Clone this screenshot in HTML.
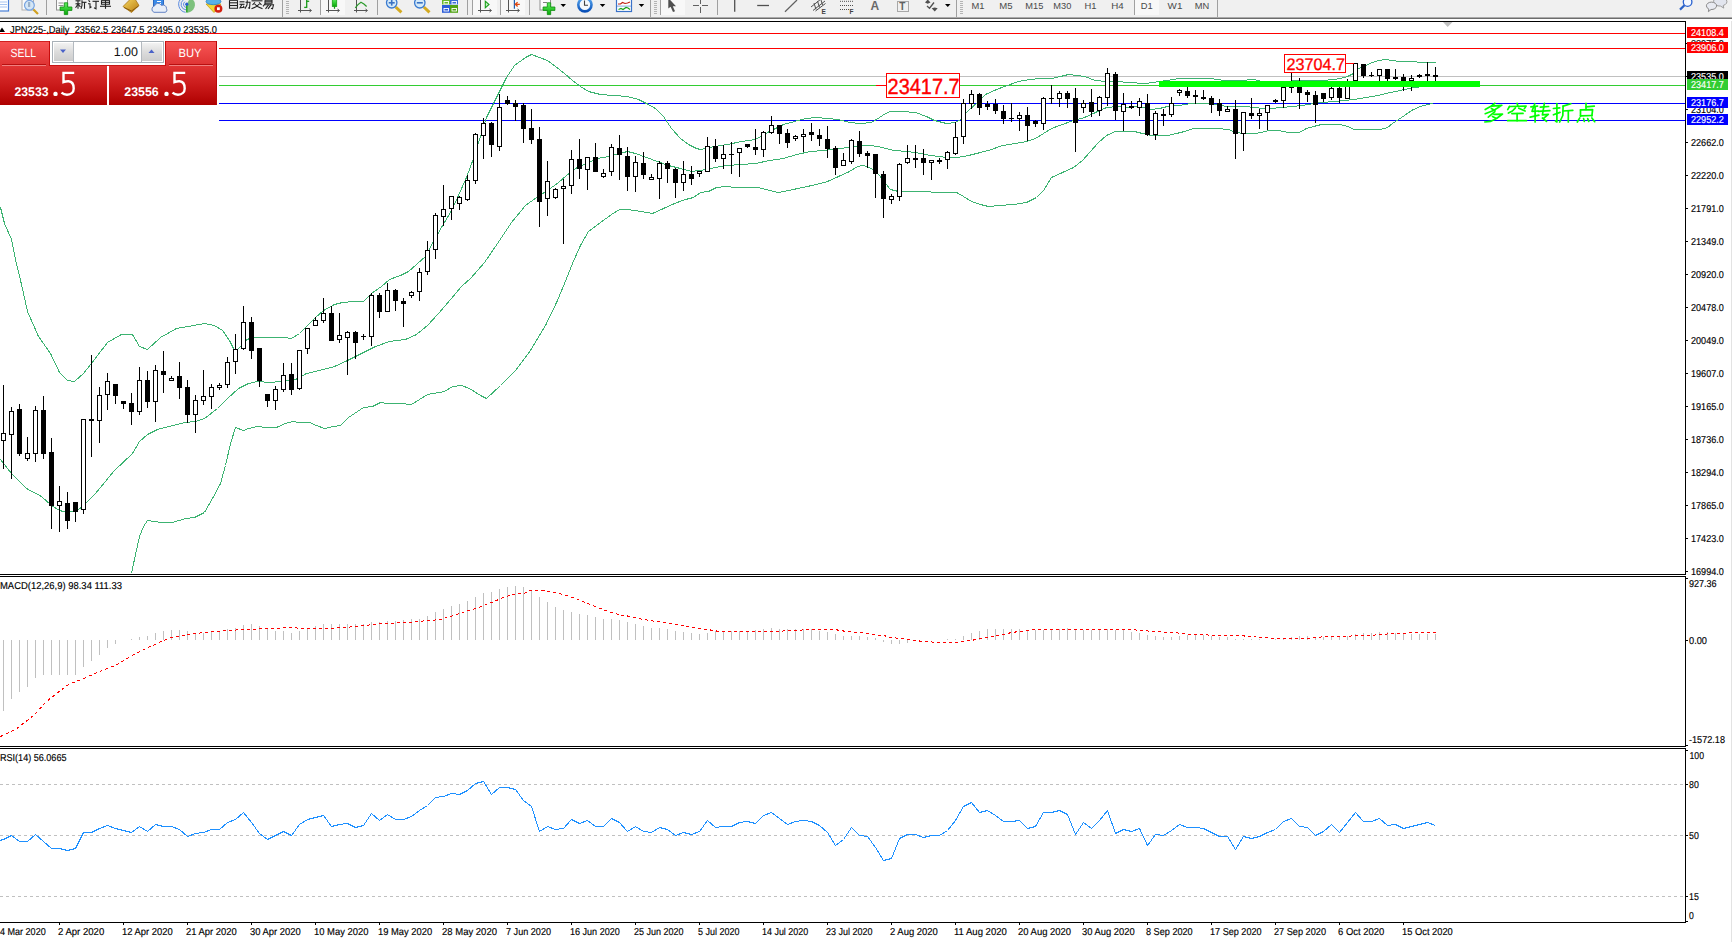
<!DOCTYPE html>
<html><head><meta charset="utf-8"><title>JPN225 Daily</title>
<style>
html,body{margin:0;padding:0;background:#fff;overflow:hidden}
body{width:1732px;height:942px;font-family:"Liberation Sans",sans-serif}
svg{display:block}
text{font-family:"Liberation Sans",sans-serif}
</style></head><body>
<svg width="1732" height="942" viewBox="0 0 1732 942">
<defs>
<linearGradient id="gbtn" x1="0" y1="0" x2="0" y2="1"><stop offset="0" stop-color="#f85656"/><stop offset="1" stop-color="#de3232"/></linearGradient>
<linearGradient id="gpan" x1="0" y1="0" x2="0" y2="1"><stop offset="0" stop-color="#e23636"/><stop offset="0.55" stop-color="#c81818"/><stop offset="1" stop-color="#ae0000"/></linearGradient>
<linearGradient id="gsp" x1="0" y1="0" x2="0" y2="1"><stop offset="0" stop-color="#f2f2f2"/><stop offset="0.5" stop-color="#dcdcdc"/><stop offset="1" stop-color="#cdcdcd"/></linearGradient>
<linearGradient id="ggold" x1="0" y1="0" x2="1" y2="1"><stop offset="0" stop-color="#f6d860"/><stop offset="1" stop-color="#b87a10"/></linearGradient>
<linearGradient id="gblue" x1="0" y1="0" x2="0" y2="1"><stop offset="0" stop-color="#58a8f0"/><stop offset="1" stop-color="#0a50b8"/></linearGradient>
<linearGradient id="ggreen" x1="0" y1="0" x2="0" y2="1"><stop offset="0" stop-color="#60f060"/><stop offset="1" stop-color="#08a808"/></linearGradient>
</defs>
<rect width="1732" height="942" fill="#fff"/>

<g shape-rendering="crispEdges">
<rect x="219" y="76" width="1467" height="1" fill="#c0c0c0"/>
<rect x="0" y="33" width="1686" height="1" fill="#ff0000"/>
<rect x="219" y="48" width="1467" height="1" fill="#ff0000"/>
<rect x="219" y="85" width="657" height="1" fill="#32cd32"/>
<rect x="960" y="85" width="726" height="1" fill="#32cd32"/>
<rect x="219" y="103" width="1467" height="1" fill="#0000ff"/>
<rect x="219" y="120" width="1467" height="1" fill="#0000ff"/>
</g><g shape-rendering="crispEdges" stroke-linejoin="round">
<polyline points="0.5,207.5 4.5,223.5 11.5,239.5 15.5,259.5 21.5,284.5 27.5,311.5 38.5,336.5 50.5,353.5 59.5,372.5 67.5,380.5 74.5,381.5 83.5,373.5 94.5,359.5 107.5,342.5 121.5,334.5 132.5,334.5 139.5,346.5 147.5,349.5 160.5,337.5 176.5,328.5 193.5,325.5 204.5,323.5 214.5,325.5 222.5,330.5 229.5,340.5 233.5,348.5 236.5,350.5 240.5,346.5 245.5,340.5 251.5,337.5 267.5,337.5 284.5,337.5 291.5,338.5 299.5,333.5 306.5,326.5 314.5,318.5 323.5,310.5 334.5,304.5 342.5,302.5 353.5,301.5 363.5,301.5 371.5,293.5 381.5,286.5 389.5,279.5 400.5,275.5 408.5,271.5 416.5,264.5 425.5,256.5 433.5,241.5 441.5,227.5 450.5,212.5 458.5,195.5 466.5,177.5 473.5,158.5 478.5,142.5 486.5,117.5 497.5,95.5 506.5,77.5 514.5,65.5 525.5,57.5 531.5,54.5 539.5,57.5 547.5,60.5 555.5,66.5 564.5,73.5 572.5,80.5 580.5,86.5 588.5,91.5 600.5,94.5 613.5,95.5 627.5,96.5 638.5,99.5 646.5,103.5 655.5,108.5 663.5,116.5 671.5,128.5 680.5,138.5 688.5,144.5 696.5,148.5 700.5,149.5 714.5,146.5 727.5,144.5 741.5,141.5 755.5,139.5 769.5,131.5 783.5,124.5 794.5,121.5 805.5,118.5 816.5,117.5 827.5,118.5 838.5,119.5 849.5,122.5 860.5,123.5 871.5,122.5 879.5,117.5 885.5,113.5 890.5,111.5 901.5,111.5 915.5,112.5 926.5,116.5 934.5,120.5 938.5,121.5 946.5,123.5 955.5,122.5 960.5,119.5 968.5,110.5 977.5,102.5 985.5,94.5 996.5,89.5 1007.5,85.5 1018.5,81.5 1029.5,79.5 1040.5,78.5 1051.5,78.5 1060.5,76.5 1068.5,74.5 1076.5,75.5 1084.5,76.5 1095.5,80.5 1106.5,81.5 1117.5,81.5 1128.5,82.5 1145.5,83.5 1159.5,81.5 1167.5,80.5 1178.5,78.5 1210.5,78.5 1224.5,80.5 1240.5,80.5 1254.5,79.5 1261.5,81.5 1323.5,80.5 1333.5,79.5 1340.5,78.5 1347.5,76.5 1353.5,73.5 1358.5,68.5 1365.5,65.5 1372.5,62.5 1378.5,60.5 1385.5,59.5 1392.5,60.5 1399.5,61.5 1406.5,61.5 1413.5,61.5 1420.5,62.5 1435.5,62.5" fill="none" stroke="#3cb371" stroke-width="1" />
<polyline points="0.5,459.5 11.5,473.5 26.5,488.5 41.5,496.5 51.5,505.5 59.5,510.5 67.5,512.5 77.5,510.5 85.5,503.5 94.5,494.5 100.5,487.5 113.5,471.5 132.5,453.5 139.5,441.5 147.5,434.5 157.5,429.5 172.5,425.5 185.5,422.5 195.5,421.5 204.5,418.5 217.5,408.5 227.5,398.5 238.5,388.5 248.5,383.5 257.5,381.5 270.5,382.5 280.5,381.5 295.5,379.5 306.5,373.5 323.5,369.5 334.5,366.5 347.5,360.5 361.5,353.5 375.5,346.5 389.5,341.5 405.5,339.5 416.5,334.5 427.5,325.5 438.5,313.5 450.5,299.5 461.5,286.5 470.5,278.5 484.5,262.5 497.5,243.5 511.5,222.5 525.5,205.5 536.5,197.5 547.5,190.5 558.5,182.5 566.5,175.5 575.5,168.5 586.5,163.5 597.5,158.5 608.5,156.5 619.5,153.5 627.5,151.5 635.5,153.5 646.5,157.5 657.5,161.5 668.5,165.5 680.5,168.5 691.5,171.5 699.5,170.5 707.5,169.5 714.5,167.5 727.5,165.5 741.5,164.5 755.5,163.5 769.5,160.5 783.5,158.5 796.5,154.5 810.5,151.5 824.5,150.5 838.5,148.5 849.5,147.5 860.5,145.5 871.5,145.5 882.5,147.5 893.5,150.5 907.5,151.5 921.5,153.5 930.5,155.5 938.5,156.5 946.5,157.5 957.5,157.5 968.5,155.5 980.5,152.5 991.5,149.5 1002.5,145.5 1015.5,143.5 1026.5,141.5 1035.5,138.5 1043.5,133.5 1051.5,128.5 1062.5,124.5 1073.5,120.5 1084.5,117.5 1095.5,112.5 1106.5,107.5 1117.5,106.5 1128.5,107.5 1140.5,106.5 1150.5,109.5 1159.5,108.5 1167.5,106.5 1178.5,105.5 1191.5,103.5 1202.5,103.5 1210.5,103.5 1219.5,105.5 1228.5,106.5 1236.5,106.5 1245.5,106.5 1254.5,107.5 1262.5,108.5 1271.5,108.5 1281.5,107.5 1292.5,106.5 1302.5,105.5 1313.5,103.5 1323.5,102.5 1333.5,101.5 1344.5,100.5 1354.5,99.5 1366.5,97.5 1378.5,95.5 1389.5,92.5 1396.5,91.5 1403.5,89.5 1410.5,88.5 1413.5,87.5 1435.5,85.5" fill="none" stroke="#3cb371" stroke-width="1" />
<polyline points="131.5,573.5 135.5,554.5 139.5,536.5 143.5,526.5 147.5,520.5 153.5,521.5 161.5,522.5 172.5,522.5 185.5,518.5 194.5,517.5 204.5,512.5 212.5,498.5 220.5,483.5 225.5,465.5 230.5,443.5 235.5,427.5 243.5,430.5 248.5,428.5 257.5,426.5 265.5,427.5 276.5,427.5 285.5,423.5 292.5,421.5 299.5,422.5 309.5,422.5 316.5,425.5 324.5,428.5 333.5,426.5 340.5,425.5 348.5,417.5 357.5,411.5 363.5,407.5 372.5,406.5 380.5,402.5 386.5,403.5 400.5,403.5 411.5,404.5 419.5,399.5 427.5,394.5 444.5,391.5 452.5,386.5 461.5,385.5 469.5,388.5 480.5,395.5 486.5,398.5 500.5,385.5 515.5,370.5 530.5,350.5 545.5,325.5 557.5,300.5 564.5,283.5 572.5,263.5 580.5,245.5 588.5,231.5 600.5,222.5 611.5,214.5 619.5,209.5 627.5,209.5 641.5,211.5 652.5,213.5 663.5,208.5 674.5,203.5 685.5,199.5 693.5,197.5 700.5,192.5 708.5,191.5 716.5,187.5 725.5,186.5 736.5,187.5 758.5,187.5 769.5,190.5 778.5,192.5 788.5,190.5 802.5,187.5 816.5,184.5 827.5,181.5 838.5,176.5 849.5,171.5 857.5,166.5 863.5,165.5 871.5,168.5 879.5,175.5 885.5,183.5 890.5,189.5 898.5,191.5 910.5,191.5 921.5,191.5 940.5,192.5 956.5,192.5 963.5,196.5 971.5,201.5 980.5,204.5 988.5,206.5 999.5,205.5 1013.5,204.5 1026.5,202.5 1036.5,197.5 1043.5,190.5 1051.5,177.5 1062.5,172.5 1073.5,167.5 1082.5,160.5 1090.5,151.5 1098.5,142.5 1106.5,135.5 1115.5,131.5 1134.5,131.5 1142.5,133.5 1151.5,135.5 1159.5,135.5 1167.5,135.5 1176.5,133.5 1184.5,131.5 1193.5,128.5 1202.5,128.5 1216.5,128.5 1228.5,129.5 1235.5,132.5 1243.5,133.5 1254.5,133.5 1261.5,132.5 1268.5,130.5 1278.5,130.5 1288.5,132.5 1299.5,132.5 1306.5,128.5 1313.5,126.5 1321.5,124.5 1340.5,124.5 1347.5,126.5 1354.5,129.5 1366.5,129.5 1380.5,129.5 1387.5,127.5 1392.5,123.5 1398.5,119.5 1404.5,115.5 1411.5,110.5 1420.5,106.5 1427.5,104.5 1433.5,103.5" fill="none" stroke="#3cb371" stroke-width="1" />
</g><g shape-rendering="crispEdges">
<rect x="3" y="385" width="1" height="84" fill="#000"/>
<rect x="1" y="433" width="5" height="8" fill="#000"/>
<rect x="2" y="434" width="3" height="6" fill="#fff"/>
<rect x="11" y="407" width="1" height="72" fill="#000"/>
<rect x="9" y="411" width="5" height="24" fill="#000"/>
<rect x="10" y="412" width="3" height="22" fill="#fff"/>
<rect x="19" y="404" width="1" height="52" fill="#000"/>
<rect x="17" y="409" width="5" height="45" fill="#000"/>
<rect x="27" y="437" width="1" height="24" fill="#000"/>
<rect x="25" y="453" width="5" height="6" fill="#000"/>
<rect x="26" y="454" width="3" height="4" fill="#fff"/>
<rect x="35" y="406" width="1" height="56" fill="#000"/>
<rect x="33" y="410" width="5" height="44" fill="#000"/>
<rect x="34" y="411" width="3" height="42" fill="#fff"/>
<rect x="43" y="396" width="1" height="63" fill="#000"/>
<rect x="41" y="410" width="5" height="44" fill="#000"/>
<rect x="51" y="438" width="1" height="91" fill="#000"/>
<rect x="49" y="452" width="5" height="54" fill="#000"/>
<rect x="59" y="486" width="1" height="46" fill="#000"/>
<rect x="57" y="501" width="5" height="5" fill="#000"/>
<rect x="58" y="502" width="3" height="3" fill="#fff"/>
<rect x="67" y="492" width="1" height="37" fill="#000"/>
<rect x="65" y="503" width="5" height="18" fill="#000"/>
<rect x="75" y="502" width="1" height="20" fill="#000"/>
<rect x="73" y="502" width="5" height="10" fill="#000"/>
<rect x="83" y="419" width="1" height="95" fill="#000"/>
<rect x="81" y="419" width="5" height="91" fill="#000"/>
<rect x="82" y="420" width="3" height="89" fill="#fff"/>
<rect x="91" y="355" width="1" height="102" fill="#000"/>
<rect x="89" y="419" width="5" height="2" fill="#000"/>
<rect x="99" y="387" width="1" height="56" fill="#000"/>
<rect x="97" y="395" width="5" height="26" fill="#000"/>
<rect x="98" y="396" width="3" height="24" fill="#fff"/>
<rect x="107" y="373" width="1" height="37" fill="#000"/>
<rect x="105" y="381" width="5" height="14" fill="#000"/>
<rect x="106" y="382" width="3" height="12" fill="#fff"/>
<rect x="115" y="384" width="1" height="20" fill="#000"/>
<rect x="113" y="384" width="5" height="12" fill="#000"/>
<rect x="123" y="401" width="1" height="8" fill="#000"/>
<rect x="121" y="401" width="5" height="3" fill="#000"/>
<rect x="131" y="393" width="1" height="32" fill="#000"/>
<rect x="129" y="403" width="5" height="9" fill="#000"/>
<rect x="139" y="367" width="1" height="48" fill="#000"/>
<rect x="137" y="380" width="5" height="32" fill="#000"/>
<rect x="138" y="381" width="3" height="30" fill="#fff"/>
<rect x="147" y="371" width="1" height="37" fill="#000"/>
<rect x="145" y="380" width="5" height="22" fill="#000"/>
<rect x="155" y="365" width="1" height="57" fill="#000"/>
<rect x="153" y="370" width="5" height="32" fill="#000"/>
<rect x="154" y="371" width="3" height="30" fill="#fff"/>
<rect x="163" y="351" width="1" height="42" fill="#000"/>
<rect x="161" y="371" width="5" height="4" fill="#000"/>
<rect x="171" y="376" width="1" height="5" fill="#000"/>
<rect x="169" y="378" width="5" height="3" fill="#000"/>
<rect x="170" y="379" width="3" height="1" fill="#fff"/>
<rect x="179" y="362" width="1" height="37" fill="#000"/>
<rect x="177" y="376" width="5" height="12" fill="#000"/>
<rect x="187" y="380" width="1" height="43" fill="#000"/>
<rect x="185" y="387" width="5" height="28" fill="#000"/>
<rect x="195" y="395" width="1" height="38" fill="#000"/>
<rect x="193" y="400" width="5" height="15" fill="#000"/>
<rect x="194" y="401" width="3" height="13" fill="#fff"/>
<rect x="203" y="370" width="1" height="35" fill="#000"/>
<rect x="201" y="396" width="5" height="5" fill="#000"/>
<rect x="202" y="397" width="3" height="3" fill="#fff"/>
<rect x="211" y="384" width="1" height="25" fill="#000"/>
<rect x="209" y="387" width="5" height="10" fill="#000"/>
<rect x="210" y="388" width="3" height="8" fill="#fff"/>
<rect x="219" y="383" width="1" height="7" fill="#000"/>
<rect x="217" y="385" width="5" height="3" fill="#000"/>
<rect x="218" y="386" width="3" height="1" fill="#fff"/>
<rect x="227" y="357" width="1" height="31" fill="#000"/>
<rect x="225" y="362" width="5" height="23" fill="#000"/>
<rect x="226" y="363" width="3" height="21" fill="#fff"/>
<rect x="235" y="334" width="1" height="40" fill="#000"/>
<rect x="233" y="349" width="5" height="13" fill="#000"/>
<rect x="234" y="350" width="3" height="11" fill="#fff"/>
<rect x="243" y="306" width="1" height="44" fill="#000"/>
<rect x="241" y="322" width="5" height="27" fill="#000"/>
<rect x="242" y="323" width="3" height="25" fill="#fff"/>
<rect x="251" y="317" width="1" height="42" fill="#000"/>
<rect x="249" y="322" width="5" height="29" fill="#000"/>
<rect x="259" y="348" width="1" height="39" fill="#000"/>
<rect x="257" y="348" width="5" height="33" fill="#000"/>
<rect x="267" y="394" width="1" height="13" fill="#000"/>
<rect x="265" y="394" width="5" height="7" fill="#000"/>
<rect x="275" y="386" width="1" height="24" fill="#000"/>
<rect x="273" y="389" width="5" height="12" fill="#000"/>
<rect x="274" y="390" width="3" height="10" fill="#fff"/>
<rect x="283" y="363" width="1" height="29" fill="#000"/>
<rect x="281" y="375" width="5" height="15" fill="#000"/>
<rect x="282" y="376" width="3" height="13" fill="#fff"/>
<rect x="291" y="363" width="1" height="32" fill="#000"/>
<rect x="289" y="374" width="5" height="16" fill="#000"/>
<rect x="299" y="350" width="1" height="40" fill="#000"/>
<rect x="297" y="350" width="5" height="39" fill="#000"/>
<rect x="298" y="351" width="3" height="37" fill="#fff"/>
<rect x="307" y="328" width="1" height="26" fill="#000"/>
<rect x="305" y="328" width="5" height="21" fill="#000"/>
<rect x="306" y="329" width="3" height="19" fill="#fff"/>
<rect x="315" y="317" width="1" height="9" fill="#000"/>
<rect x="313" y="320" width="5" height="6" fill="#000"/>
<rect x="314" y="321" width="3" height="4" fill="#fff"/>
<rect x="323" y="298" width="1" height="25" fill="#000"/>
<rect x="321" y="313" width="5" height="8" fill="#000"/>
<rect x="322" y="314" width="3" height="6" fill="#fff"/>
<rect x="331" y="306" width="1" height="35" fill="#000"/>
<rect x="329" y="313" width="5" height="28" fill="#000"/>
<rect x="339" y="313" width="1" height="30" fill="#000"/>
<rect x="337" y="335" width="5" height="5" fill="#000"/>
<rect x="338" y="336" width="3" height="3" fill="#fff"/>
<rect x="347" y="331" width="1" height="44" fill="#000"/>
<rect x="345" y="332" width="5" height="6" fill="#000"/>
<rect x="346" y="333" width="3" height="4" fill="#fff"/>
<rect x="355" y="331" width="1" height="28" fill="#000"/>
<rect x="353" y="332" width="5" height="11" fill="#000"/>
<rect x="363" y="334" width="1" height="6" fill="#000"/>
<rect x="361" y="336" width="5" height="1" fill="#000"/>
<rect x="371" y="293" width="1" height="53" fill="#000"/>
<rect x="369" y="295" width="5" height="42" fill="#000"/>
<rect x="370" y="296" width="3" height="40" fill="#fff"/>
<rect x="379" y="293" width="1" height="25" fill="#000"/>
<rect x="377" y="295" width="5" height="17" fill="#000"/>
<rect x="387" y="283" width="1" height="29" fill="#000"/>
<rect x="385" y="290" width="5" height="22" fill="#000"/>
<rect x="386" y="291" width="3" height="20" fill="#fff"/>
<rect x="395" y="289" width="1" height="22" fill="#000"/>
<rect x="393" y="290" width="5" height="11" fill="#000"/>
<rect x="403" y="298" width="1" height="29" fill="#000"/>
<rect x="401" y="301" width="5" height="3" fill="#000"/>
<rect x="411" y="291" width="1" height="7" fill="#000"/>
<rect x="409" y="292" width="5" height="4" fill="#000"/>
<rect x="410" y="293" width="3" height="2" fill="#fff"/>
<rect x="419" y="268" width="1" height="33" fill="#000"/>
<rect x="417" y="272" width="5" height="20" fill="#000"/>
<rect x="418" y="273" width="3" height="18" fill="#fff"/>
<rect x="427" y="241" width="1" height="34" fill="#000"/>
<rect x="425" y="250" width="5" height="22" fill="#000"/>
<rect x="426" y="251" width="3" height="20" fill="#fff"/>
<rect x="435" y="213" width="1" height="46" fill="#000"/>
<rect x="433" y="215" width="5" height="35" fill="#000"/>
<rect x="434" y="216" width="3" height="33" fill="#fff"/>
<rect x="443" y="185" width="1" height="41" fill="#000"/>
<rect x="441" y="209" width="5" height="8" fill="#000"/>
<rect x="442" y="210" width="3" height="6" fill="#fff"/>
<rect x="451" y="196" width="1" height="24" fill="#000"/>
<rect x="449" y="196" width="5" height="13" fill="#000"/>
<rect x="450" y="197" width="3" height="11" fill="#fff"/>
<rect x="459" y="196" width="1" height="14" fill="#000"/>
<rect x="457" y="197" width="5" height="7" fill="#000"/>
<rect x="458" y="198" width="3" height="5" fill="#fff"/>
<rect x="467" y="175" width="1" height="26" fill="#000"/>
<rect x="465" y="180" width="5" height="20" fill="#000"/>
<rect x="466" y="181" width="3" height="18" fill="#fff"/>
<rect x="475" y="133" width="1" height="51" fill="#000"/>
<rect x="473" y="134" width="5" height="47" fill="#000"/>
<rect x="474" y="135" width="3" height="45" fill="#fff"/>
<rect x="483" y="118" width="1" height="41" fill="#000"/>
<rect x="481" y="123" width="5" height="13" fill="#000"/>
<rect x="482" y="124" width="3" height="11" fill="#fff"/>
<rect x="491" y="122" width="1" height="35" fill="#000"/>
<rect x="489" y="123" width="5" height="22" fill="#000"/>
<rect x="499" y="94" width="1" height="57" fill="#000"/>
<rect x="497" y="107" width="5" height="40" fill="#000"/>
<rect x="498" y="108" width="3" height="38" fill="#fff"/>
<rect x="507" y="96" width="1" height="9" fill="#000"/>
<rect x="505" y="100" width="5" height="4" fill="#000"/>
<rect x="515" y="100" width="1" height="21" fill="#000"/>
<rect x="513" y="103" width="5" height="4" fill="#000"/>
<rect x="523" y="103" width="1" height="40" fill="#000"/>
<rect x="521" y="105" width="5" height="24" fill="#000"/>
<rect x="531" y="109" width="1" height="35" fill="#000"/>
<rect x="529" y="128" width="5" height="12" fill="#000"/>
<rect x="539" y="127" width="1" height="100" fill="#000"/>
<rect x="537" y="139" width="5" height="63" fill="#000"/>
<rect x="547" y="161" width="1" height="55" fill="#000"/>
<rect x="545" y="181" width="5" height="18" fill="#000"/>
<rect x="546" y="182" width="3" height="16" fill="#fff"/>
<rect x="555" y="188" width="1" height="11" fill="#000"/>
<rect x="553" y="189" width="5" height="9" fill="#000"/>
<rect x="554" y="190" width="3" height="7" fill="#fff"/>
<rect x="563" y="179" width="1" height="65" fill="#000"/>
<rect x="561" y="186" width="5" height="3" fill="#000"/>
<rect x="562" y="187" width="3" height="1" fill="#fff"/>
<rect x="571" y="150" width="1" height="44" fill="#000"/>
<rect x="569" y="159" width="5" height="27" fill="#000"/>
<rect x="570" y="160" width="3" height="25" fill="#fff"/>
<rect x="579" y="139" width="1" height="40" fill="#000"/>
<rect x="577" y="159" width="5" height="10" fill="#000"/>
<rect x="587" y="157" width="1" height="33" fill="#000"/>
<rect x="585" y="157" width="5" height="13" fill="#000"/>
<rect x="586" y="158" width="3" height="11" fill="#fff"/>
<rect x="595" y="143" width="1" height="29" fill="#000"/>
<rect x="593" y="157" width="5" height="15" fill="#000"/>
<rect x="603" y="169" width="1" height="9" fill="#000"/>
<rect x="601" y="173" width="5" height="4" fill="#000"/>
<rect x="602" y="174" width="3" height="2" fill="#fff"/>
<rect x="611" y="144" width="1" height="32" fill="#000"/>
<rect x="609" y="147" width="5" height="25" fill="#000"/>
<rect x="610" y="148" width="3" height="23" fill="#fff"/>
<rect x="619" y="135" width="1" height="45" fill="#000"/>
<rect x="617" y="148" width="5" height="7" fill="#000"/>
<rect x="627" y="147" width="1" height="44" fill="#000"/>
<rect x="625" y="156" width="5" height="21" fill="#000"/>
<rect x="635" y="156" width="1" height="36" fill="#000"/>
<rect x="633" y="162" width="5" height="15" fill="#000"/>
<rect x="634" y="163" width="3" height="13" fill="#fff"/>
<rect x="643" y="152" width="1" height="27" fill="#000"/>
<rect x="641" y="163" width="5" height="12" fill="#000"/>
<rect x="651" y="174" width="1" height="6" fill="#000"/>
<rect x="649" y="177" width="5" height="3" fill="#000"/>
<rect x="650" y="178" width="3" height="1" fill="#fff"/>
<rect x="659" y="161" width="1" height="38" fill="#000"/>
<rect x="657" y="163" width="5" height="16" fill="#000"/>
<rect x="658" y="164" width="3" height="14" fill="#fff"/>
<rect x="667" y="161" width="1" height="22" fill="#000"/>
<rect x="665" y="163" width="5" height="6" fill="#000"/>
<rect x="675" y="168" width="1" height="30" fill="#000"/>
<rect x="673" y="169" width="5" height="14" fill="#000"/>
<rect x="683" y="161" width="1" height="30" fill="#000"/>
<rect x="681" y="174" width="5" height="9" fill="#000"/>
<rect x="682" y="175" width="3" height="7" fill="#fff"/>
<rect x="691" y="166" width="1" height="19" fill="#000"/>
<rect x="689" y="174" width="5" height="5" fill="#000"/>
<rect x="699" y="171" width="1" height="6" fill="#000"/>
<rect x="697" y="171" width="5" height="3" fill="#000"/>
<rect x="698" y="172" width="3" height="1" fill="#fff"/>
<rect x="707" y="137" width="1" height="35" fill="#000"/>
<rect x="705" y="146" width="5" height="26" fill="#000"/>
<rect x="706" y="147" width="3" height="24" fill="#fff"/>
<rect x="715" y="139" width="1" height="23" fill="#000"/>
<rect x="713" y="146" width="5" height="13" fill="#000"/>
<rect x="723" y="145" width="1" height="24" fill="#000"/>
<rect x="721" y="154" width="5" height="5" fill="#000"/>
<rect x="722" y="155" width="3" height="3" fill="#fff"/>
<rect x="731" y="142" width="1" height="32" fill="#000"/>
<rect x="729" y="154" width="5" height="1" fill="#000"/>
<rect x="739" y="148" width="1" height="29" fill="#000"/>
<rect x="737" y="148" width="5" height="5" fill="#000"/>
<rect x="738" y="149" width="3" height="3" fill="#fff"/>
<rect x="747" y="144" width="1" height="4" fill="#000"/>
<rect x="745" y="144" width="5" height="3" fill="#000"/>
<rect x="755" y="129" width="1" height="26" fill="#000"/>
<rect x="753" y="147" width="5" height="3" fill="#000"/>
<rect x="763" y="131" width="1" height="26" fill="#000"/>
<rect x="761" y="132" width="5" height="18" fill="#000"/>
<rect x="762" y="133" width="3" height="16" fill="#fff"/>
<rect x="771" y="116" width="1" height="18" fill="#000"/>
<rect x="769" y="125" width="5" height="8" fill="#000"/>
<rect x="770" y="126" width="3" height="6" fill="#fff"/>
<rect x="779" y="125" width="1" height="19" fill="#000"/>
<rect x="777" y="125" width="5" height="9" fill="#000"/>
<rect x="787" y="129" width="1" height="19" fill="#000"/>
<rect x="785" y="133" width="5" height="10" fill="#000"/>
<rect x="795" y="135" width="1" height="6" fill="#000"/>
<rect x="793" y="136" width="5" height="3" fill="#000"/>
<rect x="794" y="137" width="3" height="1" fill="#fff"/>
<rect x="803" y="129" width="1" height="23" fill="#000"/>
<rect x="801" y="134" width="5" height="3" fill="#000"/>
<rect x="802" y="135" width="3" height="1" fill="#fff"/>
<rect x="811" y="123" width="1" height="18" fill="#000"/>
<rect x="809" y="132" width="5" height="3" fill="#000"/>
<rect x="819" y="129" width="1" height="17" fill="#000"/>
<rect x="817" y="135" width="5" height="4" fill="#000"/>
<rect x="827" y="126" width="1" height="32" fill="#000"/>
<rect x="825" y="139" width="5" height="10" fill="#000"/>
<rect x="835" y="146" width="1" height="29" fill="#000"/>
<rect x="833" y="148" width="5" height="20" fill="#000"/>
<rect x="843" y="153" width="1" height="13" fill="#000"/>
<rect x="841" y="160" width="5" height="6" fill="#000"/>
<rect x="842" y="161" width="3" height="4" fill="#fff"/>
<rect x="851" y="139" width="1" height="25" fill="#000"/>
<rect x="849" y="140" width="5" height="22" fill="#000"/>
<rect x="850" y="141" width="3" height="20" fill="#fff"/>
<rect x="859" y="131" width="1" height="26" fill="#000"/>
<rect x="857" y="141" width="5" height="13" fill="#000"/>
<rect x="867" y="151" width="1" height="17" fill="#000"/>
<rect x="865" y="153" width="5" height="3" fill="#000"/>
<rect x="875" y="154" width="1" height="44" fill="#000"/>
<rect x="873" y="154" width="5" height="20" fill="#000"/>
<rect x="883" y="171" width="1" height="47" fill="#000"/>
<rect x="881" y="174" width="5" height="25" fill="#000"/>
<rect x="891" y="194" width="1" height="10" fill="#000"/>
<rect x="889" y="196" width="5" height="4" fill="#000"/>
<rect x="890" y="197" width="3" height="2" fill="#fff"/>
<rect x="899" y="163" width="1" height="38" fill="#000"/>
<rect x="897" y="164" width="5" height="33" fill="#000"/>
<rect x="898" y="165" width="3" height="31" fill="#fff"/>
<rect x="907" y="145" width="1" height="19" fill="#000"/>
<rect x="905" y="158" width="5" height="5" fill="#000"/>
<rect x="906" y="159" width="3" height="3" fill="#fff"/>
<rect x="915" y="145" width="1" height="23" fill="#000"/>
<rect x="913" y="158" width="5" height="2" fill="#000"/>
<rect x="923" y="149" width="1" height="26" fill="#000"/>
<rect x="921" y="158" width="5" height="5" fill="#000"/>
<rect x="931" y="160" width="1" height="20" fill="#000"/>
<rect x="929" y="160" width="5" height="3" fill="#000"/>
<rect x="930" y="161" width="3" height="1" fill="#fff"/>
<rect x="939" y="158" width="1" height="6" fill="#000"/>
<rect x="937" y="160" width="5" height="2" fill="#000"/>
<rect x="947" y="151" width="1" height="18" fill="#000"/>
<rect x="945" y="152" width="5" height="8" fill="#000"/>
<rect x="946" y="153" width="3" height="6" fill="#fff"/>
<rect x="955" y="122" width="1" height="33" fill="#000"/>
<rect x="953" y="137" width="5" height="17" fill="#000"/>
<rect x="954" y="138" width="3" height="15" fill="#fff"/>
<rect x="963" y="99" width="1" height="45" fill="#000"/>
<rect x="961" y="103" width="5" height="34" fill="#000"/>
<rect x="962" y="104" width="3" height="32" fill="#fff"/>
<rect x="971" y="90" width="1" height="19" fill="#000"/>
<rect x="969" y="94" width="5" height="10" fill="#000"/>
<rect x="970" y="95" width="3" height="8" fill="#fff"/>
<rect x="979" y="93" width="1" height="22" fill="#000"/>
<rect x="977" y="94" width="5" height="14" fill="#000"/>
<rect x="987" y="101" width="1" height="9" fill="#000"/>
<rect x="985" y="104" width="5" height="3" fill="#000"/>
<rect x="995" y="99" width="1" height="15" fill="#000"/>
<rect x="993" y="104" width="5" height="7" fill="#000"/>
<rect x="1003" y="105" width="1" height="19" fill="#000"/>
<rect x="1001" y="111" width="5" height="8" fill="#000"/>
<rect x="1011" y="103" width="1" height="19" fill="#000"/>
<rect x="1009" y="118" width="5" height="1" fill="#000"/>
<rect x="1019" y="112" width="1" height="19" fill="#000"/>
<rect x="1017" y="115" width="5" height="4" fill="#000"/>
<rect x="1018" y="116" width="3" height="2" fill="#fff"/>
<rect x="1027" y="107" width="1" height="34" fill="#000"/>
<rect x="1025" y="115" width="5" height="11" fill="#000"/>
<rect x="1035" y="120" width="1" height="7" fill="#000"/>
<rect x="1033" y="121" width="5" height="3" fill="#000"/>
<rect x="1043" y="97" width="1" height="33" fill="#000"/>
<rect x="1041" y="98" width="5" height="26" fill="#000"/>
<rect x="1042" y="99" width="3" height="24" fill="#fff"/>
<rect x="1051" y="85" width="1" height="19" fill="#000"/>
<rect x="1049" y="98" width="5" height="1" fill="#000"/>
<rect x="1059" y="91" width="1" height="16" fill="#000"/>
<rect x="1057" y="93" width="5" height="6" fill="#000"/>
<rect x="1058" y="94" width="3" height="4" fill="#fff"/>
<rect x="1067" y="91" width="1" height="17" fill="#000"/>
<rect x="1065" y="93" width="5" height="6" fill="#000"/>
<rect x="1075" y="88" width="1" height="64" fill="#000"/>
<rect x="1073" y="98" width="5" height="25" fill="#000"/>
<rect x="1083" y="100" width="1" height="13" fill="#000"/>
<rect x="1081" y="103" width="5" height="5" fill="#000"/>
<rect x="1082" y="104" width="3" height="3" fill="#fff"/>
<rect x="1091" y="89" width="1" height="28" fill="#000"/>
<rect x="1089" y="102" width="5" height="10" fill="#000"/>
<rect x="1099" y="96" width="1" height="20" fill="#000"/>
<rect x="1097" y="97" width="5" height="14" fill="#000"/>
<rect x="1098" y="98" width="3" height="12" fill="#fff"/>
<rect x="1107" y="68" width="1" height="38" fill="#000"/>
<rect x="1105" y="73" width="5" height="25" fill="#000"/>
<rect x="1106" y="74" width="3" height="23" fill="#fff"/>
<rect x="1115" y="72" width="1" height="48" fill="#000"/>
<rect x="1113" y="74" width="5" height="37" fill="#000"/>
<rect x="1123" y="93" width="1" height="38" fill="#000"/>
<rect x="1121" y="104" width="5" height="8" fill="#000"/>
<rect x="1122" y="105" width="3" height="6" fill="#fff"/>
<rect x="1131" y="101" width="1" height="8" fill="#000"/>
<rect x="1129" y="106" width="5" height="2" fill="#000"/>
<rect x="1139" y="98" width="1" height="18" fill="#000"/>
<rect x="1137" y="101" width="5" height="7" fill="#000"/>
<rect x="1138" y="102" width="3" height="5" fill="#fff"/>
<rect x="1147" y="94" width="1" height="42" fill="#000"/>
<rect x="1145" y="103" width="5" height="32" fill="#000"/>
<rect x="1155" y="111" width="1" height="29" fill="#000"/>
<rect x="1153" y="113" width="5" height="22" fill="#000"/>
<rect x="1154" y="114" width="3" height="20" fill="#fff"/>
<rect x="1163" y="109" width="1" height="17" fill="#000"/>
<rect x="1161" y="114" width="5" height="2" fill="#000"/>
<rect x="1171" y="97" width="1" height="20" fill="#000"/>
<rect x="1169" y="103" width="5" height="12" fill="#000"/>
<rect x="1170" y="104" width="3" height="10" fill="#fff"/>
<rect x="1179" y="89" width="1" height="7" fill="#000"/>
<rect x="1177" y="90" width="5" height="3" fill="#000"/>
<rect x="1178" y="91" width="3" height="1" fill="#fff"/>
<rect x="1187" y="87" width="1" height="11" fill="#000"/>
<rect x="1185" y="91" width="5" height="5" fill="#000"/>
<rect x="1195" y="90" width="1" height="14" fill="#000"/>
<rect x="1193" y="95" width="5" height="2" fill="#000"/>
<rect x="1203" y="90" width="1" height="10" fill="#000"/>
<rect x="1201" y="97" width="5" height="2" fill="#000"/>
<rect x="1211" y="96" width="1" height="17" fill="#000"/>
<rect x="1209" y="98" width="5" height="7" fill="#000"/>
<rect x="1219" y="99" width="1" height="17" fill="#000"/>
<rect x="1217" y="103" width="5" height="8" fill="#000"/>
<rect x="1227" y="106" width="1" height="6" fill="#000"/>
<rect x="1225" y="109" width="5" height="3" fill="#000"/>
<rect x="1226" y="110" width="3" height="1" fill="#fff"/>
<rect x="1235" y="100" width="1" height="59" fill="#000"/>
<rect x="1233" y="109" width="5" height="25" fill="#000"/>
<rect x="1243" y="112" width="1" height="39" fill="#000"/>
<rect x="1241" y="112" width="5" height="22" fill="#000"/>
<rect x="1242" y="113" width="3" height="20" fill="#fff"/>
<rect x="1251" y="98" width="1" height="21" fill="#000"/>
<rect x="1249" y="113" width="5" height="3" fill="#000"/>
<rect x="1259" y="109" width="1" height="20" fill="#000"/>
<rect x="1257" y="113" width="5" height="3" fill="#000"/>
<rect x="1258" y="114" width="3" height="1" fill="#fff"/>
<rect x="1267" y="105" width="1" height="25" fill="#000"/>
<rect x="1265" y="105" width="5" height="8" fill="#000"/>
<rect x="1266" y="106" width="3" height="6" fill="#fff"/>
<rect x="1275" y="99" width="1" height="4" fill="#000"/>
<rect x="1273" y="100" width="5" height="2" fill="#000"/>
<rect x="1283" y="87" width="1" height="21" fill="#000"/>
<rect x="1281" y="87" width="5" height="14" fill="#000"/>
<rect x="1282" y="88" width="3" height="12" fill="#fff"/>
<rect x="1291" y="72" width="1" height="21" fill="#000"/>
<rect x="1289" y="87" width="5" height="1" fill="#000"/>
<rect x="1299" y="78" width="1" height="31" fill="#000"/>
<rect x="1297" y="87" width="5" height="6" fill="#000"/>
<rect x="1307" y="90" width="1" height="12" fill="#000"/>
<rect x="1305" y="92" width="5" height="3" fill="#000"/>
<rect x="1315" y="91" width="1" height="32" fill="#000"/>
<rect x="1313" y="95" width="5" height="10" fill="#000"/>
<rect x="1323" y="93" width="1" height="9" fill="#000"/>
<rect x="1321" y="93" width="5" height="6" fill="#000"/>
<rect x="1331" y="87" width="1" height="13" fill="#000"/>
<rect x="1329" y="88" width="5" height="10" fill="#000"/>
<rect x="1330" y="89" width="3" height="8" fill="#fff"/>
<rect x="1339" y="87" width="1" height="16" fill="#000"/>
<rect x="1337" y="88" width="5" height="10" fill="#000"/>
<rect x="1347" y="79" width="1" height="20" fill="#000"/>
<rect x="1345" y="86" width="5" height="13" fill="#000"/>
<rect x="1346" y="87" width="3" height="11" fill="#fff"/>
<rect x="1355" y="63" width="1" height="18" fill="#000"/>
<rect x="1353" y="63" width="5" height="18" fill="#000"/>
<rect x="1354" y="64" width="3" height="16" fill="#fff"/>
<rect x="1363" y="64" width="1" height="14" fill="#000"/>
<rect x="1361" y="64" width="5" height="12" fill="#000"/>
<rect x="1371" y="72" width="1" height="5" fill="#000"/>
<rect x="1369" y="75" width="5" height="1" fill="#000"/>
<rect x="1379" y="69" width="1" height="13" fill="#000"/>
<rect x="1377" y="69" width="5" height="7" fill="#000"/>
<rect x="1378" y="70" width="3" height="5" fill="#fff"/>
<rect x="1387" y="69" width="1" height="12" fill="#000"/>
<rect x="1385" y="69" width="5" height="10" fill="#000"/>
<rect x="1395" y="69" width="1" height="11" fill="#000"/>
<rect x="1393" y="77" width="5" height="2" fill="#000"/>
<rect x="1403" y="74" width="1" height="17" fill="#000"/>
<rect x="1401" y="77" width="5" height="4" fill="#000"/>
<rect x="1411" y="75" width="1" height="16" fill="#000"/>
<rect x="1409" y="78" width="5" height="3" fill="#000"/>
<rect x="1410" y="79" width="3" height="1" fill="#fff"/>
<rect x="1419" y="74" width="1" height="4" fill="#000"/>
<rect x="1417" y="75" width="5" height="2" fill="#000"/>
<rect x="1427" y="62" width="1" height="19" fill="#000"/>
<rect x="1425" y="74" width="5" height="2" fill="#000"/>
<rect x="1435" y="67" width="1" height="14" fill="#000"/>
<rect x="1433" y="75" width="5" height="2" fill="#000"/>
<rect x="1159" y="81" width="321" height="6" fill="#00ff00"/>
<rect x="876" y="85" width="10" height="1" fill="#ff0000"/>
<rect x="886.5" y="73.5" width="73" height="24" fill="#fff" stroke="#ff0000" stroke-width="1"/>
<rect x="1346" y="63" width="8" height="1" fill="#ff0000"/>
<rect x="1284.5" y="54.5" width="61" height="18" fill="#fff" stroke="#ff0000" stroke-width="1"/>
</g>
<text x="887.6" y="93.7" font-size="22" fill="#ff0000" text-rendering="geometricPrecision" textLength="72" lengthAdjust="spacingAndGlyphs" stroke="#ff0000" stroke-width="0.4">23417.7</text>
<text x="1286.4" y="70" font-size="16.6" fill="#ff0000" text-rendering="geometricPrecision" textLength="58.6" lengthAdjust="spacingAndGlyphs" stroke="#ff0000" stroke-width="0.3">23704.7</text>
<polygon points="1443,22 1452.5,22 1447.7,27" fill="#c0c0c0"/>
<g shape-rendering="crispEdges">
<rect x="3" y="640" width="1" height="71" fill="#c0c0c0"/>
<rect x="11" y="640" width="1" height="59" fill="#c0c0c0"/>
<rect x="19" y="640" width="1" height="52" fill="#c0c0c0"/>
<rect x="27" y="640" width="1" height="47" fill="#c0c0c0"/>
<rect x="35" y="640" width="1" height="38" fill="#c0c0c0"/>
<rect x="43" y="640" width="1" height="35" fill="#c0c0c0"/>
<rect x="51" y="640" width="1" height="35" fill="#c0c0c0"/>
<rect x="59" y="640" width="1" height="35" fill="#c0c0c0"/>
<rect x="67" y="640" width="1" height="35" fill="#c0c0c0"/>
<rect x="75" y="640" width="1" height="35" fill="#c0c0c0"/>
<rect x="83" y="640" width="1" height="27" fill="#c0c0c0"/>
<rect x="91" y="640" width="1" height="21" fill="#c0c0c0"/>
<rect x="99" y="640" width="1" height="15" fill="#c0c0c0"/>
<rect x="107" y="640" width="1" height="8" fill="#c0c0c0"/>
<rect x="115" y="640" width="1" height="4" fill="#c0c0c0"/>
<rect x="131" y="639" width="1" height="1" fill="#c0c0c0"/>
<rect x="139" y="637" width="1" height="3" fill="#c0c0c0"/>
<rect x="147" y="636" width="1" height="4" fill="#c0c0c0"/>
<rect x="155" y="633" width="1" height="7" fill="#c0c0c0"/>
<rect x="163" y="631" width="1" height="9" fill="#c0c0c0"/>
<rect x="171" y="630" width="1" height="10" fill="#c0c0c0"/>
<rect x="179" y="630" width="1" height="10" fill="#c0c0c0"/>
<rect x="187" y="631" width="1" height="9" fill="#c0c0c0"/>
<rect x="195" y="633" width="1" height="7" fill="#c0c0c0"/>
<rect x="203" y="633" width="1" height="7" fill="#c0c0c0"/>
<rect x="211" y="631" width="1" height="9" fill="#c0c0c0"/>
<rect x="219" y="631" width="1" height="9" fill="#c0c0c0"/>
<rect x="227" y="629" width="1" height="11" fill="#c0c0c0"/>
<rect x="235" y="628" width="1" height="12" fill="#c0c0c0"/>
<rect x="243" y="625" width="1" height="15" fill="#c0c0c0"/>
<rect x="251" y="624" width="1" height="16" fill="#c0c0c0"/>
<rect x="259" y="626" width="1" height="14" fill="#c0c0c0"/>
<rect x="267" y="628" width="1" height="12" fill="#c0c0c0"/>
<rect x="275" y="631" width="1" height="9" fill="#c0c0c0"/>
<rect x="283" y="631" width="1" height="9" fill="#c0c0c0"/>
<rect x="291" y="633" width="1" height="7" fill="#c0c0c0"/>
<rect x="299" y="631" width="1" height="9" fill="#c0c0c0"/>
<rect x="307" y="628" width="1" height="12" fill="#c0c0c0"/>
<rect x="315" y="626" width="1" height="14" fill="#c0c0c0"/>
<rect x="323" y="624" width="1" height="16" fill="#c0c0c0"/>
<rect x="331" y="624" width="1" height="16" fill="#c0c0c0"/>
<rect x="339" y="624" width="1" height="16" fill="#c0c0c0"/>
<rect x="347" y="624" width="1" height="16" fill="#c0c0c0"/>
<rect x="355" y="624" width="1" height="16" fill="#c0c0c0"/>
<rect x="363" y="624" width="1" height="16" fill="#c0c0c0"/>
<rect x="371" y="622" width="1" height="18" fill="#c0c0c0"/>
<rect x="379" y="622" width="1" height="18" fill="#c0c0c0"/>
<rect x="387" y="621" width="1" height="19" fill="#c0c0c0"/>
<rect x="395" y="621" width="1" height="19" fill="#c0c0c0"/>
<rect x="403" y="620" width="1" height="20" fill="#c0c0c0"/>
<rect x="411" y="619" width="1" height="21" fill="#c0c0c0"/>
<rect x="419" y="619" width="1" height="21" fill="#c0c0c0"/>
<rect x="427" y="616" width="1" height="24" fill="#c0c0c0"/>
<rect x="435" y="612" width="1" height="28" fill="#c0c0c0"/>
<rect x="443" y="609" width="1" height="31" fill="#c0c0c0"/>
<rect x="451" y="606" width="1" height="34" fill="#c0c0c0"/>
<rect x="459" y="604" width="1" height="36" fill="#c0c0c0"/>
<rect x="467" y="601" width="1" height="39" fill="#c0c0c0"/>
<rect x="475" y="597" width="1" height="43" fill="#c0c0c0"/>
<rect x="483" y="593" width="1" height="47" fill="#c0c0c0"/>
<rect x="491" y="592" width="1" height="48" fill="#c0c0c0"/>
<rect x="499" y="589" width="1" height="51" fill="#c0c0c0"/>
<rect x="507" y="587" width="1" height="53" fill="#c0c0c0"/>
<rect x="515" y="586" width="1" height="54" fill="#c0c0c0"/>
<rect x="523" y="587" width="1" height="53" fill="#c0c0c0"/>
<rect x="531" y="591" width="1" height="49" fill="#c0c0c0"/>
<rect x="539" y="597" width="1" height="43" fill="#c0c0c0"/>
<rect x="547" y="602" width="1" height="38" fill="#c0c0c0"/>
<rect x="555" y="607" width="1" height="33" fill="#c0c0c0"/>
<rect x="563" y="610" width="1" height="30" fill="#c0c0c0"/>
<rect x="571" y="612" width="1" height="28" fill="#c0c0c0"/>
<rect x="579" y="614" width="1" height="26" fill="#c0c0c0"/>
<rect x="587" y="615" width="1" height="25" fill="#c0c0c0"/>
<rect x="595" y="617" width="1" height="23" fill="#c0c0c0"/>
<rect x="603" y="619" width="1" height="21" fill="#c0c0c0"/>
<rect x="611" y="619" width="1" height="21" fill="#c0c0c0"/>
<rect x="619" y="620" width="1" height="20" fill="#c0c0c0"/>
<rect x="627" y="622" width="1" height="18" fill="#c0c0c0"/>
<rect x="635" y="624" width="1" height="16" fill="#c0c0c0"/>
<rect x="643" y="626" width="1" height="14" fill="#c0c0c0"/>
<rect x="651" y="628" width="1" height="12" fill="#c0c0c0"/>
<rect x="659" y="628" width="1" height="12" fill="#c0c0c0"/>
<rect x="667" y="629" width="1" height="11" fill="#c0c0c0"/>
<rect x="675" y="631" width="1" height="9" fill="#c0c0c0"/>
<rect x="683" y="632" width="1" height="8" fill="#c0c0c0"/>
<rect x="691" y="633" width="1" height="7" fill="#c0c0c0"/>
<rect x="699" y="634" width="1" height="6" fill="#c0c0c0"/>
<rect x="707" y="633" width="1" height="7" fill="#c0c0c0"/>
<rect x="715" y="631" width="1" height="9" fill="#c0c0c0"/>
<rect x="723" y="631" width="1" height="9" fill="#c0c0c0"/>
<rect x="731" y="631" width="1" height="9" fill="#c0c0c0"/>
<rect x="739" y="631" width="1" height="9" fill="#c0c0c0"/>
<rect x="747" y="631" width="1" height="9" fill="#c0c0c0"/>
<rect x="755" y="630" width="1" height="10" fill="#c0c0c0"/>
<rect x="763" y="629" width="1" height="11" fill="#c0c0c0"/>
<rect x="771" y="628" width="1" height="12" fill="#c0c0c0"/>
<rect x="779" y="629" width="1" height="11" fill="#c0c0c0"/>
<rect x="787" y="629" width="1" height="11" fill="#c0c0c0"/>
<rect x="795" y="629" width="1" height="11" fill="#c0c0c0"/>
<rect x="803" y="629" width="1" height="11" fill="#c0c0c0"/>
<rect x="811" y="629" width="1" height="11" fill="#c0c0c0"/>
<rect x="819" y="631" width="1" height="9" fill="#c0c0c0"/>
<rect x="827" y="632" width="1" height="8" fill="#c0c0c0"/>
<rect x="835" y="634" width="1" height="6" fill="#c0c0c0"/>
<rect x="843" y="636" width="1" height="4" fill="#c0c0c0"/>
<rect x="851" y="636" width="1" height="4" fill="#c0c0c0"/>
<rect x="859" y="636" width="1" height="4" fill="#c0c0c0"/>
<rect x="867" y="637" width="1" height="3" fill="#c0c0c0"/>
<rect x="875" y="638" width="1" height="2" fill="#c0c0c0"/>
<rect x="883" y="640" width="1" height="2" fill="#c0c0c0"/>
<rect x="891" y="640" width="1" height="4" fill="#c0c0c0"/>
<rect x="899" y="640" width="1" height="4" fill="#c0c0c0"/>
<rect x="907" y="640" width="1" height="3" fill="#c0c0c0"/>
<rect x="947" y="639" width="1" height="1" fill="#c0c0c0"/>
<rect x="955" y="639" width="1" height="1" fill="#c0c0c0"/>
<rect x="963" y="636" width="1" height="4" fill="#c0c0c0"/>
<rect x="971" y="633" width="1" height="7" fill="#c0c0c0"/>
<rect x="979" y="631" width="1" height="9" fill="#c0c0c0"/>
<rect x="987" y="629" width="1" height="11" fill="#c0c0c0"/>
<rect x="995" y="629" width="1" height="11" fill="#c0c0c0"/>
<rect x="1003" y="629" width="1" height="11" fill="#c0c0c0"/>
<rect x="1011" y="629" width="1" height="11" fill="#c0c0c0"/>
<rect x="1019" y="629" width="1" height="11" fill="#c0c0c0"/>
<rect x="1027" y="630" width="1" height="10" fill="#c0c0c0"/>
<rect x="1035" y="630" width="1" height="10" fill="#c0c0c0"/>
<rect x="1043" y="630" width="1" height="10" fill="#c0c0c0"/>
<rect x="1051" y="629" width="1" height="11" fill="#c0c0c0"/>
<rect x="1059" y="629" width="1" height="11" fill="#c0c0c0"/>
<rect x="1067" y="628" width="1" height="12" fill="#c0c0c0"/>
<rect x="1075" y="629" width="1" height="11" fill="#c0c0c0"/>
<rect x="1083" y="630" width="1" height="10" fill="#c0c0c0"/>
<rect x="1091" y="630" width="1" height="10" fill="#c0c0c0"/>
<rect x="1099" y="630" width="1" height="10" fill="#c0c0c0"/>
<rect x="1107" y="629" width="1" height="11" fill="#c0c0c0"/>
<rect x="1115" y="630" width="1" height="10" fill="#c0c0c0"/>
<rect x="1123" y="630" width="1" height="10" fill="#c0c0c0"/>
<rect x="1131" y="632" width="1" height="8" fill="#c0c0c0"/>
<rect x="1139" y="633" width="1" height="7" fill="#c0c0c0"/>
<rect x="1147" y="635" width="1" height="5" fill="#c0c0c0"/>
<rect x="1155" y="636" width="1" height="4" fill="#c0c0c0"/>
<rect x="1163" y="637" width="1" height="3" fill="#c0c0c0"/>
<rect x="1171" y="637" width="1" height="3" fill="#c0c0c0"/>
<rect x="1179" y="636" width="1" height="4" fill="#c0c0c0"/>
<rect x="1187" y="635" width="1" height="5" fill="#c0c0c0"/>
<rect x="1195" y="635" width="1" height="5" fill="#c0c0c0"/>
<rect x="1203" y="635" width="1" height="5" fill="#c0c0c0"/>
<rect x="1211" y="636" width="1" height="4" fill="#c0c0c0"/>
<rect x="1219" y="637" width="1" height="3" fill="#c0c0c0"/>
<rect x="1227" y="637" width="1" height="3" fill="#c0c0c0"/>
<rect x="1235" y="639" width="1" height="1" fill="#c0c0c0"/>
<rect x="1243" y="639" width="1" height="1" fill="#c0c0c0"/>
<rect x="1251" y="639" width="1" height="1" fill="#c0c0c0"/>
<rect x="1259" y="639" width="1" height="1" fill="#c0c0c0"/>
<rect x="1275" y="639" width="1" height="1" fill="#c0c0c0"/>
<rect x="1283" y="638" width="1" height="2" fill="#c0c0c0"/>
<rect x="1291" y="637" width="1" height="3" fill="#c0c0c0"/>
<rect x="1299" y="636" width="1" height="4" fill="#c0c0c0"/>
<rect x="1307" y="636" width="1" height="4" fill="#c0c0c0"/>
<rect x="1315" y="637" width="1" height="3" fill="#c0c0c0"/>
<rect x="1323" y="637" width="1" height="3" fill="#c0c0c0"/>
<rect x="1331" y="636" width="1" height="4" fill="#c0c0c0"/>
<rect x="1339" y="636" width="1" height="4" fill="#c0c0c0"/>
<rect x="1347" y="636" width="1" height="4" fill="#c0c0c0"/>
<rect x="1355" y="634" width="1" height="6" fill="#c0c0c0"/>
<rect x="1363" y="633" width="1" height="7" fill="#c0c0c0"/>
<rect x="1371" y="633" width="1" height="7" fill="#c0c0c0"/>
<rect x="1379" y="632" width="1" height="8" fill="#c0c0c0"/>
<rect x="1387" y="632" width="1" height="8" fill="#c0c0c0"/>
<rect x="1395" y="633" width="1" height="7" fill="#c0c0c0"/>
<rect x="1403" y="633" width="1" height="7" fill="#c0c0c0"/>
<rect x="1411" y="634" width="1" height="6" fill="#c0c0c0"/>
<rect x="1419" y="634" width="1" height="6" fill="#c0c0c0"/>
<rect x="1427" y="634" width="1" height="6" fill="#c0c0c0"/>
<rect x="1435" y="634" width="1" height="6" fill="#c0c0c0"/>
<polyline points="0.5,736.5 15.5,729.5 33.5,715.5 46.5,701.5 56.5,693.5 68.5,684.5 81.5,679.5 99.5,671.5 117.5,664.5 135.5,653.5 152.5,645.5 170.5,637.5 188.5,634.5 211.5,631.5 244.5,629.5 267.5,628.5 292.5,627.5 300.5,628.5 330.5,628.5 356.5,626.5 381.5,623.5 406.5,622.5 440.5,619.5 453.5,615.5 465.5,611.5 478.5,607.5 491.5,602.5 503.5,597.5 516.5,593.5 524.5,593.5 529.5,590.5 541.5,590.5 554.5,592.5 567.5,595.5 580.5,600.5 592.5,605.5 605.5,610.5 618.5,614.5 630.5,616.5 643.5,619.5 656.5,621.5 669.5,623.5 681.5,625.5 694.5,627.5 707.5,629.5 719.5,631.5 745.5,631.5 770.5,631.5 796.5,630.5 808.5,629.5 834.5,629.5 846.5,631.5 859.5,632.5 872.5,634.5 883.5,635.5 891.5,637.5 899.5,638.5 907.5,639.5 915.5,640.5 923.5,641.5 939.5,642.5 955.5,642.5 963.5,641.5 971.5,640.5 979.5,638.5 987.5,637.5 995.5,635.5 1003.5,634.5 1011.5,632.5 1019.5,631.5 1027.5,630.5 1035.5,629.5 1131.5,629.5 1139.5,630.5 1155.5,631.5 1171.5,632.5 1183.5,633.5 1187.5,634.5 1203.5,634.5 1211.5,635.5 1237.5,635.5 1251.5,636.5 1259.5,637.5 1275.5,638.5 1307.5,638.5 1315.5,637.5 1327.5,636.5 1347.5,636.5 1355.5,635.5 1371.5,635.5 1379.5,634.5 1395.5,633.5 1404.5,633.5 1411.5,632.5 1435.5,632.5" fill="none" stroke="#ff0000" stroke-width="1" stroke-dasharray="3 3"/>
</g>
<g shape-rendering="crispEdges">
<line x1="0" y1="784.5" x2="1685" y2="784.5" stroke="#c0c0c0" stroke-width="1" stroke-dasharray="3 3"/>
<line x1="0" y1="835.5" x2="1685" y2="835.5" stroke="#c0c0c0" stroke-width="1" stroke-dasharray="3 3"/>
<line x1="0" y1="896.5" x2="1685" y2="896.5" stroke="#c0c0c0" stroke-width="1" stroke-dasharray="3 3"/>
<polyline points="-4.5,841.5 3.5,839.5 11.5,835.5 19.5,841.5 27.5,841.5 35.5,834.5 43.5,841.5 51.5,848.5 59.5,848.5 67.5,850.5 75.5,848.5 83.5,832.5 91.5,832.5 99.5,828.5 107.5,825.5 115.5,828.5 123.5,830.5 131.5,832.5 139.5,826.5 147.5,831.5 155.5,824.5 163.5,826.5 171.5,826.5 179.5,829.5 187.5,836.5 195.5,833.5 203.5,832.5 211.5,829.5 219.5,829.5 227.5,822.5 235.5,819.5 243.5,812.5 251.5,822.5 259.5,833.5 267.5,839.5 275.5,835.5 283.5,831.5 291.5,835.5 299.5,824.5 307.5,819.5 315.5,817.5 323.5,815.5 331.5,826.5 339.5,824.5 347.5,823.5 355.5,827.5 363.5,825.5 371.5,813.5 379.5,820.5 387.5,814.5 395.5,819.5 403.5,819.5 411.5,816.5 419.5,810.5 427.5,805.5 435.5,797.5 443.5,796.5 451.5,793.5 459.5,794.5 467.5,790.5 475.5,783.5 483.5,781.5 491.5,794.5 499.5,787.5 507.5,787.5 515.5,789.5 523.5,800.5 531.5,806.5 539.5,831.5 547.5,826.5 555.5,829.5 563.5,828.5 571.5,819.5 579.5,823.5 587.5,820.5 595.5,826.5 603.5,826.5 611.5,818.5 619.5,822.5 627.5,831.5 635.5,826.5 643.5,831.5 651.5,832.5 659.5,827.5 667.5,829.5 675.5,835.5 683.5,832.5 691.5,834.5 699.5,831.5 707.5,820.5 715.5,827.5 723.5,826.5 731.5,826.5 739.5,822.5 747.5,821.5 755.5,823.5 763.5,815.5 771.5,812.5 779.5,818.5 787.5,824.5 795.5,821.5 803.5,820.5 811.5,821.5 819.5,825.5 827.5,832.5 835.5,845.5 843.5,839.5 851.5,827.5 859.5,835.5 867.5,836.5 875.5,847.5 883.5,860.5 891.5,858.5 899.5,838.5 907.5,834.5 915.5,834.5 923.5,837.5 931.5,835.5 939.5,835.5 947.5,830.5 955.5,820.5 963.5,806.5 971.5,802.5 979.5,812.5 987.5,810.5 995.5,815.5 1003.5,821.5 1011.5,821.5 1019.5,820.5 1027.5,828.5 1035.5,826.5 1043.5,812.5 1051.5,812.5 1059.5,810.5 1067.5,814.5 1075.5,834.5 1083.5,822.5 1091.5,828.5 1099.5,820.5 1107.5,810.5 1115.5,833.5 1123.5,829.5 1131.5,831.5 1139.5,828.5 1147.5,845.5 1155.5,834.5 1163.5,835.5 1171.5,830.5 1179.5,824.5 1187.5,827.5 1195.5,827.5 1203.5,828.5 1211.5,832.5 1219.5,836.5 1227.5,836.5 1235.5,849.5 1243.5,836.5 1251.5,838.5 1259.5,836.5 1267.5,832.5 1275.5,829.5 1283.5,821.5 1291.5,818.5 1299.5,826.5 1307.5,827.5 1315.5,835.5 1323.5,831.5 1331.5,824.5 1339.5,832.5 1347.5,822.5 1355.5,812.5 1363.5,821.5 1371.5,821.5 1379.5,818.5 1387.5,825.5 1395.5,824.5 1403.5,828.5 1411.5,826.5 1419.5,824.5 1427.5,822.5 1435.5,825.5" fill="none" stroke="#1e90ff" stroke-width="1" />
</g>
<g shape-rendering="crispEdges">
<rect x="0" y="21" width="1686" height="1" fill="#000"/>
<rect x="1685" y="21" width="1" height="902" fill="#000"/>
<rect x="0" y="574" width="1686" height="1" fill="#000"/>
<rect x="0" y="576" width="1686" height="1" fill="#000"/>
<rect x="0" y="746" width="1686" height="1" fill="#000"/>
<rect x="0" y="748" width="1686" height="1" fill="#000"/>
<rect x="0" y="575" width="1686" height="1" fill="#fff"/>
<rect x="0" y="747" width="1686" height="1" fill="#fff"/>
<rect x="0" y="922" width="1686" height="1" fill="#000"/>
<rect x="1731" y="19" width="1" height="923" fill="#e3e3e3"/>
<rect x="1686" y="43" width="2" height="1" fill="#000"/>
<rect x="1686" y="76" width="2" height="1" fill="#000"/>
<rect x="1686" y="109" width="2" height="1" fill="#000"/>
<rect x="1686" y="142" width="2" height="1" fill="#000"/>
<rect x="1686" y="175" width="2" height="1" fill="#000"/>
<rect x="1686" y="208" width="2" height="1" fill="#000"/>
<rect x="1686" y="241" width="2" height="1" fill="#000"/>
<rect x="1686" y="274" width="2" height="1" fill="#000"/>
<rect x="1686" y="307" width="2" height="1" fill="#000"/>
<rect x="1686" y="340" width="2" height="1" fill="#000"/>
<rect x="1686" y="373" width="2" height="1" fill="#000"/>
<rect x="1686" y="406" width="2" height="1" fill="#000"/>
<rect x="1686" y="439" width="2" height="1" fill="#000"/>
<rect x="1686" y="472" width="2" height="1" fill="#000"/>
<rect x="1686" y="505" width="2" height="1" fill="#000"/>
<rect x="1686" y="538" width="2" height="1" fill="#000"/>
<rect x="1686" y="571" width="2" height="1" fill="#000"/>
<rect x="1686" y="578" width="2" height="1" fill="#000"/>
<rect x="1686" y="640" width="2" height="1" fill="#000"/>
<rect x="1686" y="745" width="2" height="1" fill="#000"/>
<rect x="1686" y="750" width="2" height="1" fill="#000"/>
<rect x="1686" y="784" width="2" height="1" fill="#000"/>
<rect x="1686" y="835" width="2" height="1" fill="#000"/>
<rect x="1686" y="896" width="2" height="1" fill="#000"/>
<rect x="1686" y="921" width="2" height="1" fill="#000"/>
<rect x="59" y="922" width="1" height="3" fill="#000"/>
<rect x="123" y="922" width="1" height="3" fill="#000"/>
<rect x="187" y="922" width="1" height="3" fill="#000"/>
<rect x="251" y="922" width="1" height="3" fill="#000"/>
<rect x="315" y="922" width="1" height="3" fill="#000"/>
<rect x="379" y="922" width="1" height="3" fill="#000"/>
<rect x="443" y="922" width="1" height="3" fill="#000"/>
<rect x="507" y="922" width="1" height="3" fill="#000"/>
<rect x="571" y="922" width="1" height="3" fill="#000"/>
<rect x="635" y="922" width="1" height="3" fill="#000"/>
<rect x="699" y="922" width="1" height="3" fill="#000"/>
<rect x="763" y="922" width="1" height="3" fill="#000"/>
<rect x="827" y="922" width="1" height="3" fill="#000"/>
<rect x="891" y="922" width="1" height="3" fill="#000"/>
<rect x="955" y="922" width="1" height="3" fill="#000"/>
<rect x="1019" y="922" width="1" height="3" fill="#000"/>
<rect x="1083" y="922" width="1" height="3" fill="#000"/>
<rect x="1147" y="922" width="1" height="3" fill="#000"/>
<rect x="1211" y="922" width="1" height="3" fill="#000"/>
<rect x="1275" y="922" width="1" height="3" fill="#000"/>
<rect x="1339" y="922" width="1" height="3" fill="#000"/>
<rect x="1403" y="922" width="1" height="3" fill="#000"/>
</g>
<text x="1691" y="46.5" font-size="10" fill="#000" text-rendering="geometricPrecision" textLength="32.8" lengthAdjust="spacingAndGlyphs" stroke="#000" stroke-width="0.15" >23975.0</text>
<text x="1691" y="79.5" font-size="10" fill="#000" text-rendering="geometricPrecision" textLength="32.8" lengthAdjust="spacingAndGlyphs" stroke="#000" stroke-width="0.15" >23535.0</text>
<text x="1691" y="112.5" font-size="10" fill="#000" text-rendering="geometricPrecision" textLength="32.8" lengthAdjust="spacingAndGlyphs" stroke="#000" stroke-width="0.15" >23104.0</text>
<text x="1691" y="145.5" font-size="10" fill="#000" text-rendering="geometricPrecision" textLength="32.8" lengthAdjust="spacingAndGlyphs" stroke="#000" stroke-width="0.15" >22662.0</text>
<text x="1691" y="178.5" font-size="10" fill="#000" text-rendering="geometricPrecision" textLength="32.8" lengthAdjust="spacingAndGlyphs" stroke="#000" stroke-width="0.15" >22220.0</text>
<text x="1691" y="211.5" font-size="10" fill="#000" text-rendering="geometricPrecision" textLength="32.8" lengthAdjust="spacingAndGlyphs" stroke="#000" stroke-width="0.15" >21791.0</text>
<text x="1691" y="244.5" font-size="10" fill="#000" text-rendering="geometricPrecision" textLength="32.8" lengthAdjust="spacingAndGlyphs" stroke="#000" stroke-width="0.15" >21349.0</text>
<text x="1691" y="277.5" font-size="10" fill="#000" text-rendering="geometricPrecision" textLength="32.8" lengthAdjust="spacingAndGlyphs" stroke="#000" stroke-width="0.15" >20920.0</text>
<text x="1691" y="310.5" font-size="10" fill="#000" text-rendering="geometricPrecision" textLength="32.8" lengthAdjust="spacingAndGlyphs" stroke="#000" stroke-width="0.15" >20478.0</text>
<text x="1691" y="343.5" font-size="10" fill="#000" text-rendering="geometricPrecision" textLength="32.8" lengthAdjust="spacingAndGlyphs" stroke="#000" stroke-width="0.15" >20049.0</text>
<text x="1691" y="376.5" font-size="10" fill="#000" text-rendering="geometricPrecision" textLength="32.8" lengthAdjust="spacingAndGlyphs" stroke="#000" stroke-width="0.15" >19607.0</text>
<text x="1691" y="409.5" font-size="10" fill="#000" text-rendering="geometricPrecision" textLength="32.8" lengthAdjust="spacingAndGlyphs" stroke="#000" stroke-width="0.15" >19165.0</text>
<text x="1691" y="442.5" font-size="10" fill="#000" text-rendering="geometricPrecision" textLength="32.8" lengthAdjust="spacingAndGlyphs" stroke="#000" stroke-width="0.15" >18736.0</text>
<text x="1691" y="475.5" font-size="10" fill="#000" text-rendering="geometricPrecision" textLength="32.8" lengthAdjust="spacingAndGlyphs" stroke="#000" stroke-width="0.15" >18294.0</text>
<text x="1691" y="508.5" font-size="10" fill="#000" text-rendering="geometricPrecision" textLength="32.8" lengthAdjust="spacingAndGlyphs" stroke="#000" stroke-width="0.15" >17865.0</text>
<text x="1691" y="541.5" font-size="10" fill="#000" text-rendering="geometricPrecision" textLength="32.8" lengthAdjust="spacingAndGlyphs" stroke="#000" stroke-width="0.15" >17423.0</text>
<text x="1691" y="574.5" font-size="10" fill="#000" text-rendering="geometricPrecision" textLength="32.8" lengthAdjust="spacingAndGlyphs" stroke="#000" stroke-width="0.15" >16994.0</text>
<rect x="1687" y="27" width="41" height="11" fill="#ff0000" shape-rendering="crispEdges"/>
<text x="1691" y="36" font-size="10" fill="#fff" text-rendering="geometricPrecision" textLength="32.8" lengthAdjust="spacingAndGlyphs" stroke="#fff" stroke-width="0.15" >24108.4</text>
<rect x="1687" y="42" width="41" height="11" fill="#ff0000" shape-rendering="crispEdges"/>
<text x="1691" y="51" font-size="10" fill="#fff" text-rendering="geometricPrecision" textLength="32.8" lengthAdjust="spacingAndGlyphs" stroke="#fff" stroke-width="0.15" >23906.0</text>
<rect x="1687" y="71" width="41" height="11" fill="#000" shape-rendering="crispEdges"/>
<text x="1691" y="80" font-size="10" fill="#fff" text-rendering="geometricPrecision" textLength="32.8" lengthAdjust="spacingAndGlyphs" stroke="#fff" stroke-width="0.15" >23535.0</text>
<rect x="1687" y="79" width="41" height="11" fill="#32cd32" shape-rendering="crispEdges"/>
<text x="1691" y="88" font-size="10" fill="#fff" text-rendering="geometricPrecision" textLength="32.8" lengthAdjust="spacingAndGlyphs" stroke="#fff" stroke-width="0.15" >23417.7</text>
<rect x="1687" y="97" width="41" height="11" fill="#0000ff" shape-rendering="crispEdges"/>
<text x="1691" y="106" font-size="10" fill="#fff" text-rendering="geometricPrecision" textLength="32.8" lengthAdjust="spacingAndGlyphs" stroke="#fff" stroke-width="0.15" >23176.7</text>
<rect x="1687" y="114" width="41" height="11" fill="#0000ff" shape-rendering="crispEdges"/>
<text x="1691" y="123" font-size="10" fill="#fff" text-rendering="geometricPrecision" textLength="32.8" lengthAdjust="spacingAndGlyphs" stroke="#fff" stroke-width="0.15" >22952.2</text>
<text x="1689" y="587" font-size="10" fill="#000" text-rendering="geometricPrecision" textLength="27.6" lengthAdjust="spacingAndGlyphs" stroke="#000" stroke-width="0.15" >927.36</text>
<text x="1689" y="644" font-size="10" fill="#000" text-rendering="geometricPrecision" textLength="18" lengthAdjust="spacingAndGlyphs" stroke="#000" stroke-width="0.15" >0.00</text>
<text x="1689" y="743" font-size="10" fill="#000" text-rendering="geometricPrecision" textLength="36" lengthAdjust="spacingAndGlyphs" stroke="#000" stroke-width="0.15" >-1572.18</text>
<text x="1689.5" y="759" font-size="10" fill="#000" text-rendering="geometricPrecision" textLength="14.5" lengthAdjust="spacingAndGlyphs" stroke="#000" stroke-width="0.15" >100</text>
<text x="1689" y="788.3" font-size="10" fill="#000" text-rendering="geometricPrecision" textLength="9.8" lengthAdjust="spacingAndGlyphs" stroke="#000" stroke-width="0.15" >80</text>
<text x="1689" y="839.3" font-size="10" fill="#000" text-rendering="geometricPrecision" textLength="9.8" lengthAdjust="spacingAndGlyphs" stroke="#000" stroke-width="0.15" >50</text>
<text x="1689" y="900" font-size="10" fill="#000" text-rendering="geometricPrecision" textLength="9.8" lengthAdjust="spacingAndGlyphs" stroke="#000" stroke-width="0.15" >15</text>
<text x="1689" y="919" font-size="10" fill="#000" text-rendering="geometricPrecision" textLength="4.8" lengthAdjust="spacingAndGlyphs" stroke="#000" stroke-width="0.15" >0</text>
<text x="0" y="589" font-size="10" fill="#000" text-rendering="geometricPrecision" textLength="122" lengthAdjust="spacingAndGlyphs" stroke="#000" stroke-width="0.15" >MACD(12,26,9) 98.34 111.33</text>
<text x="0" y="761" font-size="10" fill="#000" text-rendering="geometricPrecision" textLength="66.5" lengthAdjust="spacingAndGlyphs" stroke="#000" stroke-width="0.15" >RSI(14) 56.0665</text>
<text x="0" y="935.2" font-size="10" fill="#000" text-rendering="geometricPrecision" textLength="45.7" lengthAdjust="spacingAndGlyphs" stroke="#000" stroke-width="0.15" >4 Mar 2020</text>
<text x="58" y="935.2" font-size="10" fill="#000" text-rendering="geometricPrecision" textLength="46.2" lengthAdjust="spacingAndGlyphs" stroke="#000" stroke-width="0.15" >2 Apr 2020</text>
<text x="122" y="935.2" font-size="10" fill="#000" text-rendering="geometricPrecision" textLength="50.8" lengthAdjust="spacingAndGlyphs" stroke="#000" stroke-width="0.15" >12 Apr 2020</text>
<text x="186" y="935.2" font-size="10" fill="#000" text-rendering="geometricPrecision" textLength="50.8" lengthAdjust="spacingAndGlyphs" stroke="#000" stroke-width="0.15" >21 Apr 2020</text>
<text x="250" y="935.2" font-size="10" fill="#000" text-rendering="geometricPrecision" textLength="50.8" lengthAdjust="spacingAndGlyphs" stroke="#000" stroke-width="0.15" >30 Apr 2020</text>
<text x="314" y="935.2" font-size="10" fill="#000" text-rendering="geometricPrecision" textLength="54.4" lengthAdjust="spacingAndGlyphs" stroke="#000" stroke-width="0.15" >10 May 2020</text>
<text x="378" y="935.2" font-size="10" fill="#000" text-rendering="geometricPrecision" textLength="54.2" lengthAdjust="spacingAndGlyphs" stroke="#000" stroke-width="0.15" >19 May 2020</text>
<text x="442" y="935.2" font-size="10" fill="#000" text-rendering="geometricPrecision" textLength="55" lengthAdjust="spacingAndGlyphs" stroke="#000" stroke-width="0.15" >28 May 2020</text>
<text x="506" y="935.2" font-size="10" fill="#000" text-rendering="geometricPrecision" textLength="45" lengthAdjust="spacingAndGlyphs" stroke="#000" stroke-width="0.15" >7 Jun 2020</text>
<text x="570" y="935.2" font-size="10" fill="#000" text-rendering="geometricPrecision" textLength="49.8" lengthAdjust="spacingAndGlyphs" stroke="#000" stroke-width="0.15" >16 Jun 2020</text>
<text x="634" y="935.2" font-size="10" fill="#000" text-rendering="geometricPrecision" textLength="49.6" lengthAdjust="spacingAndGlyphs" stroke="#000" stroke-width="0.15" >25 Jun 2020</text>
<text x="698" y="935.2" font-size="10" fill="#000" text-rendering="geometricPrecision" textLength="41.4" lengthAdjust="spacingAndGlyphs" stroke="#000" stroke-width="0.15" >5 Jul 2020</text>
<text x="762" y="935.2" font-size="10" fill="#000" text-rendering="geometricPrecision" textLength="46.2" lengthAdjust="spacingAndGlyphs" stroke="#000" stroke-width="0.15" >14 Jul 2020</text>
<text x="826" y="935.2" font-size="10" fill="#000" text-rendering="geometricPrecision" textLength="46.5" lengthAdjust="spacingAndGlyphs" stroke="#000" stroke-width="0.15" >23 Jul 2020</text>
<text x="890" y="935.2" font-size="10" fill="#000" text-rendering="geometricPrecision" textLength="47.8" lengthAdjust="spacingAndGlyphs" stroke="#000" stroke-width="0.15" >2 Aug 2020</text>
<text x="954" y="935.2" font-size="10" fill="#000" text-rendering="geometricPrecision" textLength="52.8" lengthAdjust="spacingAndGlyphs" stroke="#000" stroke-width="0.15" >11 Aug 2020</text>
<text x="1018" y="935.2" font-size="10" fill="#000" text-rendering="geometricPrecision" textLength="53" lengthAdjust="spacingAndGlyphs" stroke="#000" stroke-width="0.15" >20 Aug 2020</text>
<text x="1082" y="935.2" font-size="10" fill="#000" text-rendering="geometricPrecision" textLength="52.6" lengthAdjust="spacingAndGlyphs" stroke="#000" stroke-width="0.15" >30 Aug 2020</text>
<text x="1146" y="935.2" font-size="10" fill="#000" text-rendering="geometricPrecision" textLength="46.7" lengthAdjust="spacingAndGlyphs" stroke="#000" stroke-width="0.15" >8 Sep 2020</text>
<text x="1210" y="935.2" font-size="10" fill="#000" text-rendering="geometricPrecision" textLength="51.6" lengthAdjust="spacingAndGlyphs" stroke="#000" stroke-width="0.15" >17 Sep 2020</text>
<text x="1274" y="935.2" font-size="10" fill="#000" text-rendering="geometricPrecision" textLength="52" lengthAdjust="spacingAndGlyphs" stroke="#000" stroke-width="0.15" >27 Sep 2020</text>
<text x="1338" y="935.2" font-size="10" fill="#000" text-rendering="geometricPrecision" textLength="46.2" lengthAdjust="spacingAndGlyphs" stroke="#000" stroke-width="0.15" >6 Oct 2020</text>
<text x="1402" y="935.2" font-size="10" fill="#000" text-rendering="geometricPrecision" textLength="50.8" lengthAdjust="spacingAndGlyphs" stroke="#000" stroke-width="0.15" >15 Oct 2020</text>
<polygon points="-1,32 5,32 2,27.5" fill="#000"/>
<text x="10" y="32.8" font-size="10" fill="#000" text-rendering="geometricPrecision" textLength="207" lengthAdjust="spacingAndGlyphs" stroke="#000" stroke-width="0.15" xml:space="preserve">JPN225-,Daily  23562.5 23647.5 23495.0 23535.0</text>
<rect x="0" y="38" width="219" height="68" fill="#fff"/>
<g shape-rendering="crispEdges">
<rect x="0" y="65" width="107" height="40" fill="url(#gpan)"/>
<rect x="109" y="65" width="108" height="40" fill="url(#gpan)"/>
<rect x="0" y="41" width="50" height="25" fill="url(#gbtn)"/>
<rect x="165" y="41" width="52" height="25" fill="url(#gbtn)"/>
<rect x="0" y="41" width="50" height="1" fill="#d02020"/>
<rect x="49" y="41" width="1" height="25" fill="#c80c0c"/>
<rect x="165" y="41" width="52" height="1" fill="#d02020"/>
<rect x="165" y="41" width="1" height="25" fill="#c80c0c"/>
<rect x="216" y="41" width="1" height="64" fill="#b80808"/>
<rect x="50" y="65" width="115" height="1" fill="#c81414"/>
<rect x="2" y="64" width="44" height="1" fill="#b81010"/>
<rect x="2" y="65" width="44" height="1" fill="#f08080"/>
<rect x="169" y="64" width="44" height="1" fill="#b81010"/>
<rect x="169" y="65" width="44" height="1" fill="#f08080"/>
<rect x="52.5" y="41.5" width="111" height="21" fill="#fff" stroke="#a9b1b8"/>
<rect x="54" y="43" width="19" height="18" fill="url(#gsp)"/>
<rect x="142" y="43" width="20" height="18" fill="url(#gsp)"/>
<rect x="73" y="42" width="1" height="20" fill="#b4bac0"/>
<rect x="141" y="42" width="1" height="20" fill="#b4bac0"/>
</g>
<polygon points="60,49.5 66,49.5 63,53" fill="#4a62c8"/>
<polygon points="148.5,53 154.5,53 151.5,49.5" fill="#4a62c8"/>
<text x="138" y="55.8" font-size="12.5" fill="#111" text-rendering="geometricPrecision" text-anchor="end" >1.00</text>
<text x="10.5" y="57" font-size="12" fill="#fff" text-rendering="geometricPrecision" textLength="25.5" lengthAdjust="spacingAndGlyphs" >SELL</text>
<text x="178.5" y="57" font-size="12" fill="#fff" text-rendering="geometricPrecision" textLength="23" lengthAdjust="spacingAndGlyphs" >BUY</text>
<text x="14.5" y="95.8" font-size="12.6" fill="#fff" text-rendering="geometricPrecision" textLength="34" lengthAdjust="spacingAndGlyphs" font-weight="bold" >23533</text>
<text x="124.3" y="95.8" font-size="12.6" fill="#fff" text-rendering="geometricPrecision" textLength="34.4" lengthAdjust="spacingAndGlyphs" font-weight="bold" >23556</text>
<rect x="53.4" y="91.8" width="4.2" height="4.2" rx="1.6" fill="#fff"/>
<path transform="translate(0,0)" d="M74.2,72.9 H63.5 V82.1 C65.5,81.4 67.3,81.2 68.6,81.3 C72.3,81.6 73.7,84.9 73.7,88.4 C73.7,92.1 71,94.7 67,94.7 C64.8,94.7 63,94 61.5,92.7" fill="none" stroke="#fff" stroke-width="2.4"/>
<rect x="164.4" y="91.8" width="4.2" height="4.2" rx="1.6" fill="#fff"/>
<path transform="translate(111,0)" d="M74.2,72.9 H63.5 V82.1 C65.5,81.4 67.3,81.2 68.6,81.3 C72.3,81.6 73.7,84.9 73.7,88.4 C73.7,92.1 71,94.7 67,94.7 C64.8,94.7 63,94 61.5,92.7" fill="none" stroke="#fff" stroke-width="2.4"/>
<polyline points="1494.9,103.3 1490.5,106.6 1485.2,109.6" fill="none" stroke="#00ff00" stroke-width="1.7" stroke-linecap="round" stroke-linejoin="round"/>
<polyline points="1491.8,106.1 1501.8,105.4 1493.5,110.5 1485.2,113.7" fill="none" stroke="#00ff00" stroke-width="1.7" stroke-linecap="round" stroke-linejoin="round"/>
<polyline points="1491.4,108.5 1494.9,110.6" fill="none" stroke="#00ff00" stroke-width="1.7" stroke-linecap="round" stroke-linejoin="round"/>
<polyline points="1494.9,111.7 1488.3,117.2" fill="none" stroke="#00ff00" stroke-width="1.7" stroke-linecap="round" stroke-linejoin="round"/>
<polyline points="1493.9,114.4 1502.5,114.1 1496.5,118.5 1490.4,121.4 1484.8,122.0" fill="none" stroke="#00ff00" stroke-width="1.7" stroke-linecap="round" stroke-linejoin="round"/>
<polyline points="1492.5,116.5 1495.9,118.2" fill="none" stroke="#00ff00" stroke-width="1.7" stroke-linecap="round" stroke-linejoin="round"/>
<polyline points="1517.1,103.3 1517.8,105.8" fill="none" stroke="#00ff00" stroke-width="1.7" stroke-linecap="round" stroke-linejoin="round"/>
<polyline points="1509.5,106.5 1507.7,109.6" fill="none" stroke="#00ff00" stroke-width="1.7" stroke-linecap="round" stroke-linejoin="round"/>
<polyline points="1509.5,106.5 1526.1,106.1 1524.4,108.5" fill="none" stroke="#00ff00" stroke-width="1.7" stroke-linecap="round" stroke-linejoin="round"/>
<polyline points="1515.4,107.9 1512.4,111.0 1508.4,113.0" fill="none" stroke="#00ff00" stroke-width="1.7" stroke-linecap="round" stroke-linejoin="round"/>
<polyline points="1518.8,108.2 1525.1,111.0" fill="none" stroke="#00ff00" stroke-width="1.7" stroke-linecap="round" stroke-linejoin="round"/>
<polyline points="1511.9,113.7 1523.0,113.4" fill="none" stroke="#00ff00" stroke-width="1.7" stroke-linecap="round" stroke-linejoin="round"/>
<polyline points="1517.1,113.7 1517.1,120.7" fill="none" stroke="#00ff00" stroke-width="1.7" stroke-linecap="round" stroke-linejoin="round"/>
<polyline points="1507.7,120.7 1526.4,120.7" fill="none" stroke="#00ff00" stroke-width="1.7" stroke-linecap="round" stroke-linejoin="round"/>
<polyline points="1530.9,106.8 1537.5,106.1" fill="none" stroke="#00ff00" stroke-width="1.7" stroke-linecap="round" stroke-linejoin="round"/>
<polyline points="1534.8,103.7 1532.0,111.3 1538.2,111.0" fill="none" stroke="#00ff00" stroke-width="1.7" stroke-linecap="round" stroke-linejoin="round"/>
<polyline points="1535.1,107.2 1535.1,122.0" fill="none" stroke="#00ff00" stroke-width="1.7" stroke-linecap="round" stroke-linejoin="round"/>
<polyline points="1530.2,117.2 1538.9,115.1" fill="none" stroke="#00ff00" stroke-width="1.7" stroke-linecap="round" stroke-linejoin="round"/>
<polyline points="1540.3,107.2 1548.6,106.5" fill="none" stroke="#00ff00" stroke-width="1.7" stroke-linecap="round" stroke-linejoin="round"/>
<polyline points="1538.2,111.3 1549.9,110.6" fill="none" stroke="#00ff00" stroke-width="1.7" stroke-linecap="round" stroke-linejoin="round"/>
<polyline points="1544.4,103.3 1542.4,114.8 1548.3,114.4 1543.9,118.2" fill="none" stroke="#00ff00" stroke-width="1.7" stroke-linecap="round" stroke-linejoin="round"/>
<polyline points="1542.4,118.0 1546.5,121.4" fill="none" stroke="#00ff00" stroke-width="1.7" stroke-linecap="round" stroke-linejoin="round"/>
<polyline points="1553.4,108.5 1559.7,107.9" fill="none" stroke="#00ff00" stroke-width="1.7" stroke-linecap="round" stroke-linejoin="round"/>
<polyline points="1556.9,103.7 1556.9,122.0 1555.5,121.0" fill="none" stroke="#00ff00" stroke-width="1.7" stroke-linecap="round" stroke-linejoin="round"/>
<polyline points="1553.4,114.8 1560.0,112.4" fill="none" stroke="#00ff00" stroke-width="1.7" stroke-linecap="round" stroke-linejoin="round"/>
<polyline points="1570.8,103.7 1563.1,106.1" fill="none" stroke="#00ff00" stroke-width="1.7" stroke-linecap="round" stroke-linejoin="round"/>
<polyline points="1563.1,106.1 1562.8,115.5 1559.7,122.0" fill="none" stroke="#00ff00" stroke-width="1.7" stroke-linecap="round" stroke-linejoin="round"/>
<polyline points="1563.1,111.0 1572.8,110.3" fill="none" stroke="#00ff00" stroke-width="1.7" stroke-linecap="round" stroke-linejoin="round"/>
<polyline points="1568.3,111.0 1568.3,122.0" fill="none" stroke="#00ff00" stroke-width="1.7" stroke-linecap="round" stroke-linejoin="round"/>
<polyline points="1586.0,103.3 1586.0,109.6" fill="none" stroke="#00ff00" stroke-width="1.7" stroke-linecap="round" stroke-linejoin="round"/>
<polyline points="1586.0,106.8 1594.3,106.1" fill="none" stroke="#00ff00" stroke-width="1.7" stroke-linecap="round" stroke-linejoin="round"/>
<polyline points="1580.5,109.9 1580.5,116.2" fill="none" stroke="#00ff00" stroke-width="1.7" stroke-linecap="round" stroke-linejoin="round"/>
<polyline points="1580.5,109.9 1592.6,109.6 1591.9,115.8" fill="none" stroke="#00ff00" stroke-width="1.7" stroke-linecap="round" stroke-linejoin="round"/>
<polyline points="1580.5,115.8 1591.9,115.5" fill="none" stroke="#00ff00" stroke-width="1.7" stroke-linecap="round" stroke-linejoin="round"/>
<polyline points="1579.8,117.9 1577.3,122.0" fill="none" stroke="#00ff00" stroke-width="1.7" stroke-linecap="round" stroke-linejoin="round"/>
<polyline points="1583.6,118.6 1584.3,121.4" fill="none" stroke="#00ff00" stroke-width="1.7" stroke-linecap="round" stroke-linejoin="round"/>
<polyline points="1587.7,118.6 1588.8,121.4" fill="none" stroke="#00ff00" stroke-width="1.7" stroke-linecap="round" stroke-linejoin="round"/>
<polyline points="1591.9,117.9 1594.7,121.7" fill="none" stroke="#00ff00" stroke-width="1.7" stroke-linecap="round" stroke-linejoin="round"/>
<g id="toolbar">
<rect x="0" y="0" width="1732" height="17" fill="#f0f0f0"/>
<rect x="0" y="17" width="1732" height="1" fill="#aaaaaa"/>
<rect x="0" y="18" width="1732" height="1" fill="#6c6c6c"/>
<rect x="0" y="19" width="1732" height="2" fill="#fff"/>
<rect x="-2" y="-2" width="10.5" height="13" fill="#fff" stroke="#4a80d8" stroke-width="1.2"/>
<rect x="0" y="1.5" width="7" height="1" fill="#a8c4f0"/>
<rect x="0" y="4" width="7" height="1" fill="#a8c4f0"/>
<rect x="0" y="6.5" width="7" height="1" fill="#a8c4f0"/>
<rect x="22" y="-2" width="11.5" height="12" fill="#fafafa" stroke="#b0b0b0"/>
<line x1="33.5" y1="9.5" x2="38" y2="14" stroke="#d0a020" stroke-width="2.2"/>
<circle cx="29.4" cy="5.3" r="4.9" fill="#d4e6f6" stroke="#78a4e0" stroke-width="1.2"/>
<rect x="28" y="2" width="2.2" height="5" fill="#9ab0c8"/>
<rect x="46" y="0" width="1" height="15" fill="#a0a0a0" shape-rendering="crispEdges"/>
<rect x="56.5" y="-2" width="11" height="12" fill="#fcfcfc" stroke="#909090"/>
<rect x="58.5" y="2.5" width="5" height="1" fill="#909090"/>
<rect x="58.5" y="5" width="5" height="1" fill="#909090"/>
<path d="M64.3,2.8h3.4v4.2h4.2v3.4h-4.2v4.2h-3.4v-4.2h-4.2v-3.4h4.2z" fill="url(#ggreen)" stroke="#0a8a0a" stroke-width="0.8"/>
<polyline points="75.5,0.8 80.5,0.8" fill="none" stroke="#222" stroke-width="1.1"/>
<polyline points="78.0,0.8 78.0,8.8" fill="none" stroke="#222" stroke-width="1.1"/>
<polyline points="75.5,3.8 80.5,3.8" fill="none" stroke="#222" stroke-width="1.1"/>
<polyline points="78.0,4.3 75.5,7.8" fill="none" stroke="#222" stroke-width="1.1"/>
<polyline points="78.0,4.3 80.5,6.8" fill="none" stroke="#222" stroke-width="1.1"/>
<polyline points="82.0,0.3 82.0,5.3 81.0,8.8" fill="none" stroke="#222" stroke-width="1.1"/>
<polyline points="82.0,2.3 86.5,2.3" fill="none" stroke="#222" stroke-width="1.1"/>
<polyline points="84.5,2.3 84.5,8.8" fill="none" stroke="#222" stroke-width="1.1"/>
<polyline points="88.5,0.3 90.0,1.8" fill="none" stroke="#222" stroke-width="1.1"/>
<polyline points="88.0,3.8 90.0,3.8 90.0,7.8 91.5,6.8" fill="none" stroke="#222" stroke-width="1.1"/>
<polyline points="92.5,1.3 99.0,1.3" fill="none" stroke="#222" stroke-width="1.1"/>
<polyline points="96.0,1.3 96.0,8.8 94.0,7.8" fill="none" stroke="#222" stroke-width="1.1"/>
<polyline points="101.5,0.3 109.5,0.3" fill="none" stroke="#222" stroke-width="1.1"/>
<polyline points="101.5,0.3 101.5,4.3 109.5,4.3 109.5,0.3" fill="none" stroke="#222" stroke-width="1.1"/>
<polyline points="101.5,2.3 109.5,2.3" fill="none" stroke="#222" stroke-width="1.1"/>
<polyline points="105.5,0.3 105.5,8.8" fill="none" stroke="#222" stroke-width="1.1"/>
<polyline points="100.0,6.3 111.0,6.3" fill="none" stroke="#222" stroke-width="1.1"/>
<polygon points="123,6.5 130.5,-1 135,-1 139,5.5 131.5,12.5" fill="url(#ggold)" stroke="#a87414" stroke-width="0.8"/>
<polyline points="124,7.5 131.5,11 138.5,6" fill="none" stroke="#8a5a08" stroke-width="1"/>
<rect x="153.5" y="-2" width="10" height="8" fill="#3a8ae8" stroke="#2a68c0"/>
<rect x="157" y="1" width="4" height="1" fill="#fff"/><rect x="157" y="3" width="4" height="1" fill="#fff"/>
<path d="M154,12.3 a3.3,3.3 0 0 1 0.5,-6.3 a3.8,3.8 0 0 1 7,-0.6 a3.4,3.4 0 0 1 5,3.4 a2.2,2.2 0 0 1 -1.5,3.5 z" fill="#e8eef8" stroke="#6484c4" stroke-width="1"/>
<path d="M186.8,4.3 L186.8,12.6 A8,8 0 0 0 194.5,2 A8,8 0 0 0 190,-2 Z" fill="#68b868" opacity="0.85"/>
<path d="M186.3,7.5 A3.2,3.2 0 0 1 184.9,1.7" fill="none" stroke="#5a8ae0" stroke-width="1"/>
<path d="M186.0,9.9 A5.6,5.6 0 0 1 183.4,-0.2" fill="none" stroke="#5a8ae0" stroke-width="1"/>
<path d="M185.6,12.3 A8,8 0 0 1 182.0,-2.1" fill="none" stroke="#5a8ae0" stroke-width="1"/>
<line x1="186.8" y1="5" x2="186.8" y2="12.5" stroke="#20a020" stroke-width="1.4"/>
<circle cx="186.8" cy="4.2" r="1.6" fill="#2a60d0"/>
<polygon points="206,4 221,4 214,12.5" fill="#f2d838" stroke="#c8a010" stroke-width="0.8"/>
<ellipse cx="213.5" cy="1.5" rx="7.5" ry="3.2" fill="#58b0e8" stroke="#2a80c8" stroke-width="0.8"/>
<circle cx="218.4" cy="8.7" r="4" fill="#d42010"/>
<rect x="217" y="7.3" width="2.8" height="2.8" fill="#fff"/>
<polyline points="229.5,0.3 229.5,8.3 237.5,8.3 237.5,0.3" fill="none" stroke="#222" stroke-width="1.1"/>
<polyline points="229.5,2.8 237.5,2.8" fill="none" stroke="#222" stroke-width="1.1"/>
<polyline points="229.5,5.5 237.5,5.5" fill="none" stroke="#222" stroke-width="1.1"/>
<polyline points="229.5,0.3 237.5,0.3" fill="none" stroke="#222" stroke-width="1.1"/>
<polyline points="239.5,1.8 244.5,1.8" fill="none" stroke="#222" stroke-width="1.1"/>
<polyline points="239.5,4.3 244.5,4.3" fill="none" stroke="#222" stroke-width="1.1"/>
<polyline points="242.0,4.3 240.0,7.8 244.0,7.3 243.3,5.8" fill="none" stroke="#222" stroke-width="1.1"/>
<polyline points="245.5,2.3 250.0,2.3 249.5,8.3 248.0,7.8" fill="none" stroke="#222" stroke-width="1.1"/>
<polyline points="247.3,0.3 247.0,4.8 245.0,8.8" fill="none" stroke="#222" stroke-width="1.1"/>
<polyline points="251.5,0.8 262.5,0.8" fill="none" stroke="#222" stroke-width="1.1"/>
<polyline points="255.0,2.3 252.5,4.8" fill="none" stroke="#222" stroke-width="1.1"/>
<polyline points="259.0,2.3 261.5,4.8" fill="none" stroke="#222" stroke-width="1.1"/>
<polyline points="259.5,3.8 256.0,6.8 251.5,8.8" fill="none" stroke="#222" stroke-width="1.1"/>
<polyline points="254.5,3.8 258.0,6.8 262.5,8.8" fill="none" stroke="#222" stroke-width="1.1"/>
<polyline points="265.0,0.3 272.0,0.3 272.0,3.3 265.0,3.3 265.0,0.3" fill="none" stroke="#222" stroke-width="1.1"/>
<polyline points="265.0,1.8 272.0,1.8" fill="none" stroke="#222" stroke-width="1.1"/>
<polyline points="265.5,3.3 263.0,6.3" fill="none" stroke="#222" stroke-width="1.1"/>
<polyline points="265.0,4.8 273.5,4.8 272.5,8.8 271.0,8.3" fill="none" stroke="#222" stroke-width="1.1"/>
<polyline points="268.5,4.8 265.5,8.8" fill="none" stroke="#222" stroke-width="1.1"/>
<polyline points="271.0,4.8 268.0,8.8" fill="none" stroke="#222" stroke-width="1.1"/>
<rect x="282" y="0" width="1" height="17" fill="#a0a0a0" shape-rendering="crispEdges"/>
<rect x="286" y="1" width="3" height="1" fill="#b4b4b4" shape-rendering="crispEdges"/>
<rect x="286" y="3" width="3" height="1" fill="#b4b4b4" shape-rendering="crispEdges"/>
<rect x="286" y="5" width="3" height="1" fill="#b4b4b4" shape-rendering="crispEdges"/>
<rect x="286" y="7" width="3" height="1" fill="#b4b4b4" shape-rendering="crispEdges"/>
<rect x="286" y="9" width="3" height="1" fill="#b4b4b4" shape-rendering="crispEdges"/>
<rect x="286" y="11" width="3" height="1" fill="#b4b4b4" shape-rendering="crispEdges"/>
<rect x="286" y="13" width="3" height="1" fill="#b4b4b4" shape-rendering="crispEdges"/>
<g stroke="#555" stroke-width="1" fill="none"><line x1="300.5" y1="0" x2="300.5" y2="12.5"/><line x1="298" y1="10.5" x2="311" y2="10.5"/><polyline points="309.5,9 311.5,10.5 309.5,12"/></g>
<g stroke="#1a9a1a" stroke-width="1.3" fill="none"><line x1="306.7" y1="0" x2="306.7" y2="8"/><line x1="306.7" y1="1.3" x2="309.2" y2="1.3"/><line x1="304.2" y1="7.4" x2="306.7" y2="7.4"/></g>
<rect x="320" y="0" width="1" height="15" fill="#a0a0a0" shape-rendering="crispEdges"/>
<rect x="321" y="0" width="24" height="15" fill="#f8f8f8"/>
<g stroke="#555" stroke-width="1" fill="none"><line x1="328.5" y1="0" x2="328.5" y2="12.5"/><line x1="326" y1="10.5" x2="339" y2="10.5"/><polyline points="337.5,9 339.5,10.5 337.5,12"/></g>
<line x1="334.5" y1="6" x2="334.5" y2="8.8" stroke="#1a9a1a" stroke-width="1.2"/>
<rect x="332.3" y="-1" width="4.4" height="7.5" fill="url(#ggreen)" stroke="#18a018" stroke-width="0.8"/>
<g stroke="#555" stroke-width="1" fill="none"><line x1="356.5" y1="0" x2="356.5" y2="12.5"/><line x1="354" y1="10.5" x2="367" y2="10.5"/><polyline points="365.5,9 367.5,10.5 365.5,12"/></g>
<path d="M355.3,7.8 Q358,4 361,2.2 Q364,3.5 366.6,6.5" fill="none" stroke="#2a9a2a" stroke-width="1.2"/>
<rect x="377" y="0" width="1" height="15" fill="#a0a0a0" shape-rendering="crispEdges"/>
<line x1="395.7" y1="7" x2="401.4" y2="12.3" stroke="#d4aa20" stroke-width="3"/>
<circle cx="391.7" cy="2.8" r="5.2" fill="#d6eaf8" stroke="#3a7ad0" stroke-width="1.3"/>
<rect x="388.7" y="2" width="6" height="1.6" fill="#3a72c4"/>
<rect x="390.9" y="-1" width="1.6" height="6.6" fill="#3a72c4"/>
<line x1="423.8" y1="7" x2="429.5" y2="12.3" stroke="#d4aa20" stroke-width="3"/>
<circle cx="419.8" cy="2.8" r="5.2" fill="#d6eaf8" stroke="#3a7ad0" stroke-width="1.3"/>
<rect x="416.8" y="2" width="6" height="1.6" fill="#3a72c4"/>
<rect x="442" y="-2" width="8" height="6.5" fill="#68b828"/><rect x="450" y="-2" width="8" height="6.5" fill="#3a6cd8"/>
<rect x="442" y="5" width="8" height="7.8" fill="#2c5cd8"/><rect x="450" y="5" width="8" height="7.8" fill="#52a414"/>
<rect x="444" y="1.5" width="4.5" height="2.5" fill="none" stroke="#fff" stroke-width="0.9"/>
<rect x="452" y="1.5" width="4.5" height="2.5" fill="none" stroke="#fff" stroke-width="0.9"/>
<rect x="444" y="8.5" width="4.5" height="2.5" fill="none" stroke="#fff" stroke-width="0.9"/>
<rect x="452" y="8.5" width="4.5" height="2.5" fill="none" stroke="#fff" stroke-width="0.9"/>
<rect x="467" y="0" width="1" height="15" fill="#a0a0a0" shape-rendering="crispEdges"/>
<rect x="472" y="0" width="1" height="15" fill="#a0a0a0" shape-rendering="crispEdges"/>
<rect x="473" y="0" width="24" height="15" fill="#f8f8f8"/>
<g stroke="#555" stroke-width="1" fill="none"><line x1="480.5" y1="0" x2="480.5" y2="12.5"/><line x1="478" y1="10.5" x2="491" y2="10.5"/><polyline points="489.5,9 491.5,10.5 489.5,12"/></g>
<polygon points="485.3,1.2 485.3,7.8 489,4.5" fill="#c8f0c8" stroke="#18a018" stroke-width="1.1"/>
<rect x="500" y="0" width="1" height="15" fill="#a0a0a0" shape-rendering="crispEdges"/>
<rect x="501" y="0" width="24" height="15" fill="#f8f8f8"/>
<g stroke="#555" stroke-width="1" fill="none"><line x1="508.5" y1="0" x2="508.5" y2="12.5"/><line x1="506" y1="10.5" x2="519" y2="10.5"/><polyline points="517.5,9 519.5,10.5 517.5,12"/></g>
<line x1="514.4" y1="0" x2="514.4" y2="8.7" stroke="#2060b0" stroke-width="1.2"/>
<path d="M519.8,4.3H515.5M517.6,2.2L515.3,4.3L517.6,6.4" fill="none" stroke="#e04810" stroke-width="1.3"/>
<rect x="529" y="0" width="1" height="15" fill="#a0a0a0" shape-rendering="crispEdges"/>
<rect x="540" y="-2" width="10.5" height="12" fill="#fcfcfc" stroke="#909090"/>
<rect x="543" y="2" width="4" height="1" fill="#808080"/>
<path d="M547.3,2.8h3.4v4.2h4.2v3.4h-4.2v4.2h-3.4v-4.2h-4.2v-3.4h4.2z" fill="url(#ggreen)" stroke="#0a8a0a" stroke-width="0.8"/>
<polygon points="560.5,4 566.0,4 563.25,7" fill="#000"/>
<circle cx="584.9" cy="4.8" r="6.6" fill="#f4f8fc" stroke="url(#gblue)" stroke-width="2.6"/>
<path d="M584.5,0.5V5.2H588" fill="none" stroke="#404040" stroke-width="1.1"/>
<polygon points="599.8,4 605.3,4 602.55,7" fill="#000"/>
<rect x="616.5" y="-2" width="15" height="13.5" fill="#fff" stroke="#3a72c8" stroke-width="1.2"/>
<rect x="617" y="5.6" width="14" height="1" fill="#88aadc"/>
<polyline points="618,4 620.5,4 622.5,2.5 625,3.5 627.5,3 630,2" fill="none" stroke="#c02010" stroke-width="1.2"/>
<polyline points="618.5,9.5 621,8.5 623,9.5 626,7.5 628,8 630,9.5" fill="none" stroke="#18a018" stroke-width="1.2"/>
<polygon points="638.7,4 644.2,4 641.45,7" fill="#000"/>
<rect x="650" y="0" width="1" height="17" fill="#a0a0a0" shape-rendering="crispEdges"/>
<rect x="654" y="1" width="3" height="1" fill="#b4b4b4" shape-rendering="crispEdges"/>
<rect x="654" y="3" width="3" height="1" fill="#b4b4b4" shape-rendering="crispEdges"/>
<rect x="654" y="5" width="3" height="1" fill="#b4b4b4" shape-rendering="crispEdges"/>
<rect x="654" y="7" width="3" height="1" fill="#b4b4b4" shape-rendering="crispEdges"/>
<rect x="654" y="9" width="3" height="1" fill="#b4b4b4" shape-rendering="crispEdges"/>
<rect x="654" y="11" width="3" height="1" fill="#b4b4b4" shape-rendering="crispEdges"/>
<rect x="654" y="13" width="3" height="1" fill="#b4b4b4" shape-rendering="crispEdges"/>
<rect x="660" y="0" width="1" height="15" fill="#a0a0a0" shape-rendering="crispEdges"/>
<rect x="661" y="0" width="24" height="15" fill="#f8f8f8"/>
<polygon points="668.3,-2 668.3,8.5 670.6,6.8 673,12 675,11.2 672.8,6.2 676,6.2" fill="#505050"/>
<g stroke="#606060" stroke-width="1"><line x1="693" y1="5.5" x2="699" y2="5.5"/><line x1="702" y1="5.5" x2="708" y2="5.5"/><line x1="700.5" y1="0" x2="700.5" y2="4"/><line x1="700.5" y1="7" x2="700.5" y2="13"/></g>
<rect x="717" y="0" width="1" height="15" fill="#a0a0a0" shape-rendering="crispEdges"/>
<line x1="734.7" y1="0" x2="734.7" y2="11.7" stroke="#505050" stroke-width="1.3"/>
<line x1="757.2" y1="5.5" x2="769" y2="5.5" stroke="#505050" stroke-width="1.3"/>
<line x1="785" y1="11.7" x2="797" y2="0" stroke="#606060" stroke-width="1.2"/>
<g stroke="#505050" stroke-width="1"><line x1="811" y1="7" x2="821" y2="-1"/><line x1="813" y1="10.5" x2="825" y2="1"/><line x1="815.5" y1="11" x2="825.5" y2="3.5"/><line x1="814" y1="3" x2="816" y2="9.5"/><line x1="817.5" y1="1" x2="819.5" y2="7.5"/><line x1="821" y1="0" x2="822.5" y2="5"/></g>
<text x="821.6" y="13.8" font-size="6.5" font-weight="bold" fill="#404040">E</text>
<line x1="840" y1="1.3" x2="853" y2="1.3" stroke="#505050" stroke-width="1" stroke-dasharray="1 1"/>
<line x1="840" y1="5.5" x2="853" y2="5.5" stroke="#505050" stroke-width="1" stroke-dasharray="1 1"/>
<line x1="840" y1="9.5" x2="849" y2="9.5" stroke="#505050" stroke-width="1" stroke-dasharray="1 1"/>
<text x="849.6" y="13.8" font-size="6.5" font-weight="bold" fill="#404040">F</text>
<text x="870.6" y="9.5" font-size="12" font-weight="bold" fill="#686868">A</text>
<rect x="897.5" y="1.5" width="11" height="10" fill="none" stroke="#606060" stroke-width="1" stroke-dasharray="1 1"/>
<text x="899.3" y="9.5" font-size="10" font-weight="bold" fill="#606060">T</text>
<polygon points="925,2.5 927.7,-0.5 930.5,2.5 927.7,3.8" fill="#505050"/>
<polyline points="927,6 929.5,8.2 934,2.5" fill="none" stroke="#505050" stroke-width="1.3"/>
<polygon points="931.7,8.3 934.7,7.5 937.7,8.3 934.7,11.5" fill="#505050"/>
<polygon points="945,4 950.5,4 947.75,7" fill="#000"/>
<rect x="956" y="0" width="1" height="17" fill="#a0a0a0" shape-rendering="crispEdges"/>
<rect x="960" y="1" width="3" height="1" fill="#b4b4b4" shape-rendering="crispEdges"/>
<rect x="960" y="3" width="3" height="1" fill="#b4b4b4" shape-rendering="crispEdges"/>
<rect x="960" y="5" width="3" height="1" fill="#b4b4b4" shape-rendering="crispEdges"/>
<rect x="960" y="7" width="3" height="1" fill="#b4b4b4" shape-rendering="crispEdges"/>
<rect x="960" y="9" width="3" height="1" fill="#b4b4b4" shape-rendering="crispEdges"/>
<rect x="960" y="11" width="3" height="1" fill="#b4b4b4" shape-rendering="crispEdges"/>
<rect x="960" y="13" width="3" height="1" fill="#b4b4b4" shape-rendering="crispEdges"/>
<rect x="1135" y="0" width="24" height="15" fill="#f8f8f8"/>
<rect x="1134" y="0" width="1" height="15" fill="#a0a0a0" shape-rendering="crispEdges"/>
<text x="971.5" y="9" font-size="9.6" fill="#4a4a4a" textLength="13" lengthAdjust="spacingAndGlyphs">M1</text>
<text x="999.3" y="9" font-size="9.6" fill="#4a4a4a" textLength="13.3" lengthAdjust="spacingAndGlyphs">M5</text>
<text x="1025.3" y="9" font-size="9.6" fill="#4a4a4a" textLength="18" lengthAdjust="spacingAndGlyphs">M15</text>
<text x="1053.3" y="9" font-size="9.6" fill="#4a4a4a" textLength="18" lengthAdjust="spacingAndGlyphs">M30</text>
<text x="1084.5" y="9" font-size="9.6" fill="#4a4a4a" textLength="12" lengthAdjust="spacingAndGlyphs">H1</text>
<text x="1111.3" y="9" font-size="9.6" fill="#4a4a4a" textLength="12.5" lengthAdjust="spacingAndGlyphs">H4</text>
<text x="1140.7" y="9" font-size="9.6" fill="#4a4a4a" textLength="12" lengthAdjust="spacingAndGlyphs">D1</text>
<text x="1167.6" y="9" font-size="9.6" fill="#4a4a4a" textLength="14.8" lengthAdjust="spacingAndGlyphs">W1</text>
<text x="1194.7" y="9" font-size="9.6" fill="#4a4a4a" textLength="14.5" lengthAdjust="spacingAndGlyphs">MN</text>
<rect x="1217" y="0" width="1" height="17" fill="#a0a0a0" shape-rendering="crispEdges"/>
<line x1="1684.5" y1="5.2" x2="1680" y2="9.6" stroke="#2a62c8" stroke-width="2.2"/>
<circle cx="1687.6" cy="2" r="4.3" fill="#f4f8ff" stroke="#2a62d0" stroke-width="1.3"/>
<path d="M1713.6,1.5 a6.6,4.6 0 1 1 9.6,4 l0.6,2.6 l-3.2,-2 a6.6,4.6 0 0 1 -7,-4.6z" fill="#e2e5ee" stroke="#9c9c9c" stroke-width="1"/>
<path d="M1706.4,5.8 a5.1,3.7 0 1 1 4.6,3.7 l-2.6,2.2 l0.4,-2.7 a5.1,3.7 0 0 1 -2.4,-3.2z" fill="#e8eaf1" stroke="#8a8a8a" stroke-width="1"/>
</g>
</svg></body></html>
